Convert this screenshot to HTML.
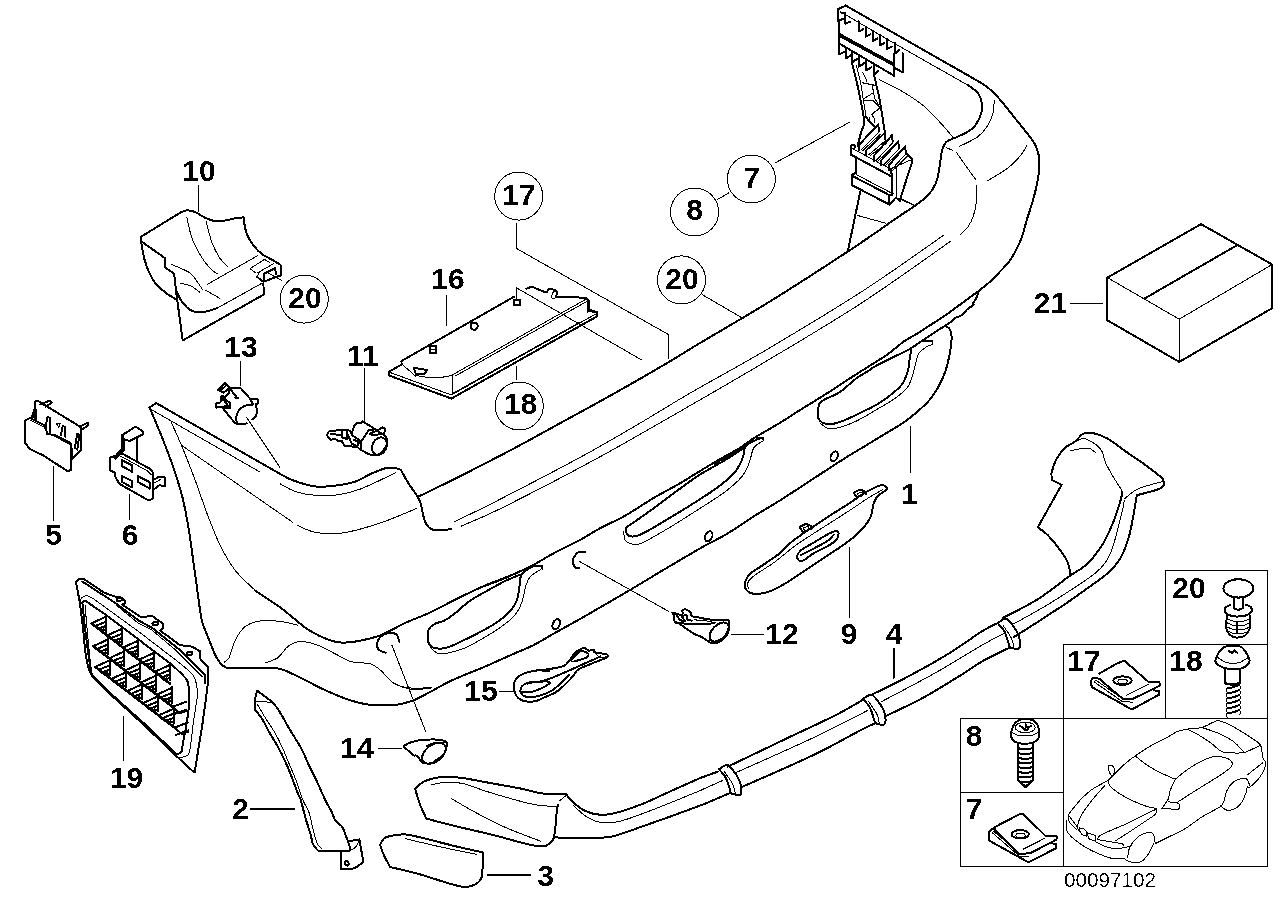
<!DOCTYPE html>
<html lang="en">
<head>
<meta charset="utf-8">
<title>Bumper trim panel, rear - parts diagram 00097102</title>
<style>
html,body{margin:0;padding:0;background:#fff;}
body{width:1288px;height:910px;overflow:hidden;}
svg{display:block;}
.k{fill:none;stroke:#000;stroke-width:2;stroke-linejoin:round;stroke-linecap:round;}
.t{fill:none;stroke:#000;stroke-width:1;stroke-linejoin:round;stroke-linecap:round;}
text{font-family:"Liberation Sans",sans-serif;fill:#000;text-anchor:middle;}
.n{font-size:30px;font-weight:bold;}
.s{font-size:20.7px;font-weight:normal;}
</style>
</head>
<body>
<svg width="1288" height="910" viewBox="0 0 1288 910" shape-rendering="crispEdges" text-rendering="optimizeLegibility">
<defs>
<filter id="bw" x="0" y="0" width="100%" height="100%" filterUnits="userSpaceOnUse" color-interpolation-filters="sRGB">
<feComponentTransfer><feFuncA type="discrete" tableValues="0 0 1 1"/></feComponentTransfer>
</filter>
<filter id="bw2" x="0" y="0" width="100%" height="100%" filterUnits="userSpaceOnUse" color-interpolation-filters="sRGB">
<feComponentTransfer><feFuncA type="discrete" tableValues="0 0 0 0 0 0 1 1 1 1"/></feComponentTransfer>
</filter>
</defs>
<rect x="0" y="0" width="1288" height="910" fill="#fff"/>
<!-- callout numbers -->
<!-- circled callouts -->
<circle class="t" cx="518.7" cy="196.1" r="24"/>
<circle class="t" cx="304.3" cy="299.1" r="24"/>
<circle class="t" cx="519.3" cy="406" r="24"/>
<circle class="t" cx="751.4" cy="179" r="24"/>
<circle class="t" cx="694.6" cy="212" r="24"/>
<circle class="t" cx="681.5" cy="279.9" r="24"/>
<!-- legend boxes -->
<path class="t" d="M1165.5 570 L1267.5 570 L1267.5 866 L960 866 L960 718 L1063 718 L1063 644 L1165.5 644Z"/>
<path class="t" d="M1165.5 644 L1267.5 644"/>
<path class="t" d="M1165.5 644 L1165.5 718"/>
<path class="t" d="M1063 718 L1267.5 718"/>
<path class="t" d="M1063 718 L1063 866"/>
<path class="t" d="M960 792 L1063 792"/>
<!-- bumper: right corner, outer edge and inner lip -->
<path class="k" d="M979 290.8 C978.6 291.9 977.5 295.5 976.5 297.6 C975.5 299.7 973.5 302 973 303.3 C972.5 304.6 974.3 304.3 973.4 305.2 C972.5 306.1 969.7 307.2 967.7 308.9 C965.7 310.6 963.6 313.7 961.5 315.2 C959.4 316.7 956.9 316.9 955.2 317.9 C953.5 318.9 952 320.6 951.4 321.2"/>
<path class="k" d="M968 85.2 C969.7 86.5 975.7 89.9 978 93.2 C980.3 96.5 981.7 101.2 982 105.3 C982.3 109.4 981.4 113.8 979.7 117.8 C978 121.8 975.3 126 971.7 129.1 C968.1 132.2 962.1 134.5 957.9 136.6 C953.7 138.7 949.3 139.5 946.7 141.6 C944.1 143.7 943.5 146 942.4 149.1 C941.3 152.2 941 156.4 940.4 160.4 C939.8 164.4 939.4 168.9 938.6 172.9 C937.8 176.9 937.2 180.4 935.4 184.2 C933.6 188 931.2 191.9 927.9 195.5 C924.5 199.1 919.9 202.2 915.3 205.5 C910.7 208.8 905.5 211.9 900.3 215.5 C895.1 219.1 886.7 224.9 884 226.8"/>
<path class="t" d="M879 79.7 C882.5 81.5 893 85.9 900.3 90.2 C907.6 94.5 916.2 99.9 922.9 105.3 C929.6 110.7 935.4 117.5 940.4 122.8 C945.4 128.1 950.8 134.9 952.9 137.3"/>
<path class="t" d="M994.3 100.3 C994.1 102.4 994 108.6 993 112.8 C992 117 990.5 121.3 988 125.3 C985.5 129.3 982.8 133 978 136.6 C973.2 140.2 962.3 144.9 959.2 146.6"/>
<path class="t" d="M1026.9 145.4 C1025.9 147.1 1023.7 151.7 1020.6 155.4 C1017.5 159.2 1013.5 163.7 1008.1 167.9 C1002.7 172.1 991.4 178.4 988 180.5"/>
<path class="t" d="M946.7 147.9 L952.9 150.4"/>
<path class="t" d="M956.7 152.9 C958.2 155 962.4 161 965.5 165.4 C968.6 169.8 973.8 176.9 975.5 179.2"/>
<path class="t" d="M976.2 185.5 C976.2 188 977 195.5 976.5 200.5 C976 205.5 974.9 211.1 973.5 215.5 C972.1 219.9 970.2 223.7 968 226.8 C965.8 229.9 961.8 233.1 960.5 234.3"/>
<path class="k" d="M860.2 191.7 L847.7 251.9"/>
<path class="t" d="M857.7 215.5 L885.3 223.1"/>
<path class="t" d="M900.3 199.2 L914.1 205.5"/>
<!-- guide bracket at top of bumper -->
<path class="k" d="M845.7 5.6 L837.5 9.4 L837.5 20.7 L843.2 19"/>
<path class="k" d="M838.8 20.7 L838.8 54.5 L845.1 51.4"/>
<path class="k" d="M840.7 12.5 L845.1 13.2 L845.1 23.6 L850.1 21.9"/>
<path class="t" d="M840.7 11.9 L895.2 43.9 L967.9 85.2"/>
<path class="k" d="M858.8 21.3 L858.8 31.6 L863.5 29.1"/>
<path class="k" d="M865.7 26.6 L865.7 36.8 L870.4 34.3"/>
<path class="k" d="M872.6 30.7 L872.6 41 L877.3 38.5"/>
<path class="k" d="M879.9 35.1 L879.9 45.4 L884.5 42.9"/>
<path class="k" d="M887 38.8 L887 49.1 L891.7 46.6"/>
<path class="k" d="M894.6 42.6 L894.6 53.9 L899.2 49.9"/>
<path class="k" d="M893.9 53.9 L893.9 76.4"/>
<path class="k" d="M902.7 53.3 L902.7 72.3 L893.9 67.7"/>
<path class="k" d="M838.8 33.6 L892.9 63.3"/>
<path class="k" stroke-width="3.2" d="M840.1 36.3 L892.9 64.9"/>
<path class="k" d="M838.8 43.2 L893.9 75.6"/>
<path class="k" d="M845.7 48.2 L845.7 58.5 L851 55.1"/>
<path class="k" d="M852 52 L852 62.3 L857.2 58.9"/>
<path class="k" d="M858.8 56.4 L858.8 66.7 L864.1 63.3"/>
<path class="k" d="M866.4 60.2 L866.4 70.4 L871.6 67"/>
<path class="k" d="M873.9 64.5 L873.9 74.6 L878.4 70.9"/>
<path class="k" d="M852 63.3 C852.7 66.1 854.9 74.5 856.3 80.2 C857.6 85.9 859 92.1 860.1 97.7 C861.2 103.3 862.5 110.2 863.2 114 C863.9 117.8 864.2 118.6 864.2 120.7 C864.2 122.8 863.9 124.8 863.4 126.6 C862.9 128.4 862.4 128 861.4 131.3 C860.4 134.6 858.2 143.9 857.6 146.4"/>
<path class="t" d="M856.3 65.2 C857 67.9 859.2 75.9 860.4 81.5 C861.5 87.1 862.5 94.4 863.2 99 C864 103.6 864.4 106.1 864.9 109 C865.4 111.9 865.2 114.3 866.1 116.5 C867 118.7 868.6 120.5 870.1 122.2 C871.6 123.9 874.3 126.1 875.1 126.9"/>
<path class="k" d="M865.7 116.5 C866.4 117.5 868.5 120.5 870.1 122.2 C871.7 123.9 874.3 126.1 875.1 126.9"/>
<path class="k" d="M873.9 74.6 C874.3 76.4 875.5 81.1 876.4 85.2 C877.3 89.3 878.6 94.2 879.5 99 C880.4 103.8 881.3 109.8 882 114 C882.7 118.2 883 120.8 883.5 124.1 C884 127.4 884.9 132.2 885.2 133.8"/>
<path class="t" d="M862.6 72.1 L867 81.5"/>
<path class="t" d="M862 82.7 L874.5 85.2"/>
<path class="t" d="M872.6 85.2 L873.3 92.7 L864.5 98.4"/>
<path class="t" d="M864.5 100.3 L873.3 100.3 L879.8 107.4"/>
<path class="t" d="M873.3 92.7 L875.1 99 L880.2 107.8 L871.6 114.7"/>
<path class="t" d="M872 100 L880.2 107.5 L871.4 114.4 L873.9 117.5 L874.5 122.6"/>
<path class="t" d="M869.5 117.5 L870.1 121.9"/>
<path class="k" d="M858.8 150.1 L858.8 145.1 L878.3 124.4 L878.9 131"/>
<path class="t" d="M861.1 149.9 L878.8 132.2"/>
<path class="t" d="M862.9 150.4 L880.5 134.2"/>
<path class="k" d="M866.4 155.1 L866.4 150.1 L884.5 133.2 L885.2 139.7"/>
<path class="t" d="M868.6 154.9 L885 141"/>
<path class="t" d="M870.4 155.4 L886.8 143"/>
<path class="k" d="M873.9 160.8 L873.9 155.8 L892.1 135.1 L892.7 141.6"/>
<path class="t" d="M876.1 160.5 L892.6 142.9"/>
<path class="t" d="M877.9 161 L894.3 144.9"/>
<path class="k" d="M881.4 165.2 L881.4 160.2 L898.3 141.4 L898.9 147.9"/>
<path class="t" d="M883.7 164.9 L898.8 149.1"/>
<path class="t" d="M885.4 165.4 L900.6 151.1"/>
<path class="k" d="M888.9 170.2 L888.9 165.2 L905.2 146.4 L905.8 152.9"/>
<path class="t" d="M891.2 169.9 L905.7 154.1"/>
<path class="t" d="M892.9 170.4 L907.5 156.1"/>
<path class="k" d="M854.5 147.6 L854.5 144.5 L850.7 145.7 L850.7 154.5 L891.4 176.4"/>
<path class="t" d="M852 148.2 L890.2 168.9 L910.2 160.2"/>
<path class="k" d="M905.8 152.6 L911.5 158.3 L911.5 163.9 L900.2 199 L900.2 200.9 L895.8 197.7 L889.5 204.6 L852 185.2 L852 174.6 L855.1 173.3"/>
<path class="k" d="M891.4 169.5 L892.1 195.2"/>
<path class="t" d="M896.4 168.9 L896.4 197.7"/>
<path class="k" d="M855.7 158.9 L855.7 173.3"/>
<path class="k" d="M853.2 176.4 L890.2 195.5 L892.7 194"/>
<path class="t" d="M856.3 174.6 L892.1 193.4"/>
<path class="k" d="M888.9 196.5 L888.9 204.6"/>
<path class="t" d="M901.5 199 L913.4 204.6"/>
<path class="t" d="M775 163 L850 122"/>
<path class="t" d="M717.5 199.5 L728.5 193"/>
<!-- bumper: top face edge, highlight lines, left wing -->
<path class="k" d="M883.9 227 C880.3 229.5 872.2 235.2 862.1 242 C852 248.8 837.2 258.5 823.2 267.6 C809.2 276.7 791.5 288 778.1 296.4 C764.7 304.8 756 310 743 317.7 C730 325.4 713.4 335.1 700.4 342.8 C687.4 350.5 679.5 355.8 665.3 364.1 C651.1 372.5 631.9 383.5 615.2 392.9 C598.5 402.3 582.7 410.9 565.1 420.5 C547.5 430.1 527.9 441.1 509.9 450.6 C491.9 460.1 472.5 470 457.3 477.6 C442.1 485.2 425.3 493.3 418.9 496.4"/>
<path class="t" d="M944 235 C930.4 244.4 891.8 272.2 862.1 291.4 C832.4 310.6 794.2 333.4 765.6 350.3 C737 367.2 711.3 380.8 690.4 392.9 C669.5 405 658.9 412.1 640.3 423 C621.7 433.9 603 445 578.8 458.1 C554.6 471.2 515.6 491.3 494.9 501.9 C474.2 512.5 461.5 518.2 454.8 521.5"/>
<path class="t" d="M950.5 241.3 C935.8 251.5 892.9 282.6 862.1 302.7 C831.3 322.8 794.2 344.5 765.6 361.6 C737 378.7 718.4 389.3 690.4 405.4 C662.4 421.5 628.9 441.1 597.6 458.1 C566.3 475.2 525.1 496.3 502.4 507.7 C479.6 519 468 523.1 461.1 526.2"/>
<path class="t" d="M702.4 294.7 L741.8 317.7"/>
<path class="t" d="M516.5 223 L516.5 248.5 L668.7 334.7 L668.7 359"/>
<path class="k" d="M149.5 407.6 L156.3 403.1 L277.9 472.7 L277.9 472.7 C280.4 474 286.6 478 292.9 480.3 C299.2 482.6 308 485.7 315.5 486.5 C323 487.3 331.3 486.1 338 485.3 C344.7 484.5 350.2 483.4 355.6 481.5 C361 479.6 365.6 476.2 370.6 474 C375.6 471.8 381.4 469.2 385.6 468.2 C389.8 467.2 394 468.2 395.7 468.2 L400.7 469.7 C401.9 471.9 405.1 477.7 408.2 482.8 C411.3 487.9 417 494.9 419.5 500.3 C422 505.7 421.9 511.1 423.2 515.3 C424.4 519.5 424.9 522.9 427 525.4 C429.1 527.9 431.8 529.8 435.8 530.4 C439.8 531 448.3 529.3 450.8 529.1"/>
<path class="k" d="M149.5 407.6 C151.3 411.8 156.2 423 160.1 432.6 C163.9 442.2 168.8 454.3 172.6 465.2 C176.3 476.1 179.9 486.9 182.6 497.8 C185.3 508.7 187 519.1 188.9 530.4 C190.8 541.7 192.4 555.1 193.9 565.5 C195.4 575.9 197.1 588.4 197.7 593"/>
<path class="t" d="M151.3 409.6 L259.1 471.5"/>
<path class="t" d="M171.4 422.6 C173.1 426.4 177.4 435.6 181.4 445.2 C185.4 454.8 190.8 468.6 195.2 480.3 C199.6 492 203.5 504.4 207.7 515.3 C211.9 526.1 215.6 536.2 220.2 545.4 C224.8 554.6 229.5 563 235.3 570.5 C241.2 578 252 587.2 255.3 590.5"/>
<path class="t" d="M181.4 445.2 L292.9 522.4"/>
<path class="t" d="M297.9 525.4 C300.8 526.6 308 531.1 315.5 532.4 C323 533.6 332.1 534.5 343 532.9 C353.9 531.3 368.3 527 380.6 522.9 C392.9 518.8 410.9 510.7 417 508.3"/>
<path class="t" d="M280.4 484 C282.9 485.2 289.5 489.6 295.4 491.5 C301.2 493.4 308.4 494.8 315.5 495.3 C322.6 495.9 330.5 495.9 338 494.8 C345.5 493.8 351 492.7 360.6 489 C370.2 485.3 389.9 475.4 395.7 472.7"/>
<path class="t" d="M246.5 417.1 L279.9 467.2"/>
<path class="t" d="M224 662.3 C224.8 661.5 227.1 661.4 229 657.7 C230.9 654 232.6 645.4 235.3 640.2 C238 635 241.1 629.6 245.3 626.4 C249.5 623.2 254.5 621.7 260.3 620.9 C266.1 620.1 274.1 620.7 280.4 621.4 C286.7 622.1 295 624.6 297.9 625.2"/>
<path class="t" d="M265.3 662.8 C267.4 661.9 274.1 660.4 277.9 657.7 C281.7 655 284.1 649.2 287.9 646.5 C291.6 643.8 295.4 641.7 300.4 641.5 C305.4 641.3 312.1 643.1 318 645.2 C323.9 647.3 330.1 651.3 335.5 654 C340.9 656.7 344.8 659.8 350.6 661.5 C356.5 663.2 365.6 662.5 370.6 664 C375.6 665.5 376.8 667.2 380.6 670.3 C384.4 673.4 388.6 679.9 393.2 682.8 C397.8 685.7 401.9 687 408.2 687.8 C414.5 688.6 427 687.8 430.8 687.8"/>
<path class="k" d="M399.4 641.5 C398.8 640.2 398 635.2 395.7 633.9 C393.4 632.6 388.5 632.8 385.6 633.9 C382.7 635 379.4 637.7 378.1 640.2 C376.9 642.7 376.9 646.9 378.1 649 C379.4 651.1 384.4 652.1 385.6 652.7"/>
<path class="t" d="M391.9 645.2 L425.7 731.7"/>
<path class="t" d="M378.1 748 L401.9 748"/>
<!-- lower valance panel with three slots -->
<path class="k" d="M911.1 349.3 C910.9 350.9 910.3 355.4 909.7 359.1 C909.1 362.8 908.9 367.5 907.6 371.7 C906.3 375.9 904.8 380.4 902 384.3 C899.2 388.2 895 391.4 890.8 394.8 C886.6 398.2 882.7 401.1 876.9 404.5 C871.1 407.9 861.7 412.2 855.9 415 C850.1 417.8 846.1 419.8 841.9 421.3 C837.7 422.8 834 423.9 830.7 424.1 C827.5 424.3 824.5 423.8 822.4 422.7 C820.3 421.6 818.9 420 818.2 417.8 C817.5 415.6 817.7 412.1 818.2 409.4 C818.7 406.7 817.8 404.4 821 401.7 C824.2 399 833.5 395.8 837.7 393.4 C841.9 391 843.1 389.6 846.1 387.1 C849.1 384.7 852.4 381.3 855.9 378.7 C859.4 376.1 863.8 373.8 867.1 371.7 C870.4 369.6 871.3 368.4 875.5 366.1 C879.7 363.8 886.4 360.6 892.2 357.7 C898 354.8 904.8 351.9 910.4 348.6 C916 345.4 920 342 925.8 338.2 C931.6 334.4 940.6 328.6 945.3 325.6 C949.9 322.6 952.3 320.9 953.7 320"/>
<path class="k" d="M923 341 L932.1 341"/>
<path class="t" d="M932.1 341 L932.1 344.5"/>
<path class="t" d="M820.3 423.4 C821.6 424.2 824.8 427.6 827.9 428.3 C831 429 834.4 428.8 839.1 427.6 C843.8 426.4 849.6 424.3 855.9 421.3 C862.2 418.3 870.4 413.2 876.9 409.4 C883.4 405.6 889.9 402 895 398.3 C900.1 394.6 904.6 391.3 907.6 387.1 C910.6 382.9 911.8 377.3 913.2 373.1 C914.6 368.9 915.1 365.2 916 361.9 C916.9 358.6 917.2 355.9 918.8 353.5 C920.4 351.1 923.6 348.7 925.8 347.2 C928 345.7 931 344.9 932.1 344.5"/>
<path class="k" d="M762.8 437.5 C761.3 438.1 756.6 439.5 753.7 441 C750.8 442.5 747 444.1 745.3 446.6 C743.5 449.2 744.1 453.3 743.2 456.3 C742.3 459.3 741.4 461.7 739.7 464.7 C738 467.7 736.8 470.5 732.8 474.5 C728.8 478.5 722.3 483.9 716 488.5 C709.7 493.1 702.7 497.5 695 502.4 C687.3 507.3 678 512.9 669.9 517.8 C661.8 522.7 651.7 528.8 646.1 531.8 C640.5 534.8 639.1 535.3 636.3 536 C633.5 536.7 631 536.7 629.3 536 C627.6 535.3 626.3 533.2 625.9 531.8 C625.5 530.4 624.9 529.5 626.6 527.6 C628.3 525.7 631.4 524.1 636.3 520.6 C641.2 517.1 648.9 511.7 655.9 506.6 C662.9 501.5 671.3 495 678.3 489.9 C685.3 484.8 691.8 479.9 697.8 475.9 C703.8 471.9 709 469.4 714.6 466.1 C720.2 462.8 726.3 459.6 731.4 456.3 C736.5 453.1 743 448.2 745.3 446.6"/>
<path class="k" d="M756.5 438.2 L762.8 437.5 L763.5 440.3"/>
<path class="t" d="M623.8 531.8 C624 533.2 623.8 538.2 625.2 540.2 C626.6 542.2 629.3 543.6 632.1 544.1 C634.9 544.6 636.1 545.5 641.9 543 C647.7 540.5 657.3 534.8 667.1 529 C676.9 523.2 690.8 514.3 700.6 508 C710.4 501.7 718.8 496.7 725.8 491.3 C732.8 485.9 738.5 480.8 742.5 475.9 C746.5 471 747.6 466.6 749.5 461.9 C751.4 457.2 751.5 451.4 753.7 447.9 C755.9 444.4 761.3 442.1 762.8 441"/>
<path class="k" d="M714.6 463.6 C717.4 462 726.3 457.3 731.4 454.2 C736.5 451.1 743 446.7 745.3 445.2"/>
<path class="k" d="M541.8 565.9 C540.3 566 536.2 565.1 532.8 566.6 C529.4 568.1 523.8 571.6 521.6 574.9 C519.4 578.1 520.2 582.1 519.5 586.1 C518.8 590.1 518.7 594.9 517.4 598.7 C516.1 602.6 514.6 605.7 511.8 609.2 C509 612.7 505.3 616.2 500.6 619.7 C495.9 623.2 490.6 626.4 483.8 630.1 C477.1 633.8 466.4 639 460.1 642 C453.8 645 450.1 646.9 446.1 647.9 C442.1 648.9 439 648.7 436.3 648.3 C433.6 647.9 431.4 647.2 430 645.5 C428.6 643.8 427.9 640.5 427.7 637.8 C427.5 635.1 427.4 631.7 428.6 629.4 C429.8 627.1 432.2 625.3 434.9 623.8 C437.6 622.3 441.2 622.2 444.7 620.4 C448.2 618.5 451.7 616 455.9 612.7 C460.1 609.4 464.5 604.5 469.9 600.8 C475.2 597.1 481.9 593.7 488 590.3 C494.1 586.9 500.6 583.2 506.2 580.5 C511.8 577.8 519 575.2 521.6 574.2"/>
<path class="k" d="M541.8 565.9 L542.5 569.3"/>
<path class="k" d="M482.4 586.8 C486.4 585.3 498.3 581.1 506.2 577.7 C514.1 574.3 526 568.5 530 566.6"/>
<path class="t" d="M430 646.9 C431.3 648 434.6 652.2 437.7 653.2 C440.8 654.2 444.2 653.8 448.9 652.9 C453.6 652 459.9 650.1 465.7 647.6 C471.5 645.1 478 641.2 483.8 637.8 C489.6 634.4 495.5 631 500.6 627.3 C505.7 623.6 511.1 619.6 514.6 615.5 C518.1 611.4 519.7 607.8 521.6 602.9 C523.5 598 524.4 590.4 525.8 586.1 C527.2 581.8 527.7 579.7 530 577 C532.3 574.3 537.7 571.4 539.7 570 C541.8 568.6 541.9 568.8 542.3 568.6"/>
<path class="k" d="M255.3 590.8 C259.5 593.6 272 601.5 280.4 607.6 C288.8 613.8 298.7 622.9 305.4 627.7 C312.1 632.5 315.1 634 320.5 636.4 C325.9 638.8 332.1 641.4 338 642.2 C343.9 643.1 348.5 642.7 355.6 641.5 C362.7 640.3 372.2 638.3 380.6 635.2 C389 632.1 397.8 626.3 405.7 622.7 C413.6 619.1 418.9 617.6 428 613.4 C437.1 609.2 450.7 601.8 460 597.3 C469.3 592.8 475.2 589.8 483.8 586.1 C492.4 582.4 503.6 578.5 511.8 575 C520 571.5 525.8 568.8 532.8 565.2 C539.8 561.6 545.8 557.5 553.7 553.3 C561.6 549.1 572.3 544.2 580 540 C587.7 535.8 592.5 532.3 600 528.3 C607.5 524.2 616.4 520.7 625.2 515.7 C634.1 510.7 644.2 503.5 653.1 498.3 C662 493.1 670.8 488.6 678.3 484.3 C685.8 480 691 476.5 697.8 472.4 C704.5 468.3 711.8 463.9 718.8 459.8 C725.8 455.7 733.9 451.6 739.7 448 C745.5 444.4 747 442.4 753.7 438.2 C760.4 434 772.3 427.5 780 422.8 C787.7 418.1 792 415.1 800 410.1 C808 405.1 818.7 398.6 828 392.7 C837.3 386.8 846.1 380.8 855.9 374.5 C865.7 368.2 878.6 360.5 886.6 355 C894.6 349.5 898.6 345.1 903.8 341.5 C909 337.9 912.4 336.6 917.6 333.4 C922.8 330.1 930.3 325.1 935.1 322 C939.9 318.9 942.2 317.5 946.4 314.6 C950.6 311.7 954.8 308.5 960.2 304.5 C965.6 300.5 974.2 294.3 979 290.7 C983.8 287.1 985.7 285.6 989 282.6 C992.3 279.6 995.5 276.4 999 272.6 C1002.5 268.8 1006.6 265.5 1010.3 260 C1013.9 254.5 1018.1 246.5 1020.9 239.8 C1023.6 233.1 1024.7 227 1026.8 220 C1028.9 213 1031.7 205 1033.6 198 C1035.5 191 1037.1 184.2 1038.1 177.9 C1039.1 171.6 1039.7 165.6 1039.4 160.4 C1039.1 155.2 1037.6 150.4 1036.1 146.6 C1034.6 142.8 1034 142.4 1030.6 137.8 C1027.2 133.2 1020.6 125.2 1015.6 119 C1010.6 112.8 1005.2 105.5 1000.6 100.3 C996 95.1 992.4 91.3 988 87.7 C983.6 84.1 976.5 80.4 974.2 78.9"/>
<path class="k" d="M974.2 78.9 L845.7 5.5"/>
<path class="k" d="M197.7 593 C198.4 597.6 200 612.8 201.9 620.6 C203.8 628.4 207.1 634.6 209.2 640 C211.3 645.4 212.7 649.5 214.4 653.2 C216.2 656.9 217.8 660.1 219.7 662.4 C221.5 664.7 223.4 666.3 225.5 667.2 C227.6 668.1 226.2 667.9 232 668 C237.8 668.1 252.2 667.6 260.3 667.8 C268.4 668 273.7 667.3 280.4 669 C287.1 670.7 292.9 674.2 300.4 677.8 C307.9 681.3 317.1 686.5 325.5 690.3 C333.9 694.1 343.1 698 350.6 700.4 C358.1 702.8 363.1 704.1 370.6 704.9 C378.1 705.6 388.6 705.6 395.7 704.9 C402.8 704.1 407.3 702.6 413.2 700.4 C419.1 698.2 424.3 695 430.8 691.6 C437.3 688.2 442.9 684.5 452 680.3 C461.1 676.1 475.2 670.8 485.2 666.5 C495.2 662.2 503.9 658.1 511.8 654.6 C519.7 651.1 525.8 649 532.8 645.5 C539.8 642 545.8 638 553.7 633.6 C561.6 629.2 568 625.8 580 619 C592 612.2 611.4 600.9 625.6 592.6 C639.8 584.3 652 576.7 665 569 C678 561.3 693.3 552.2 703.4 546.5 C713.5 540.8 717.4 539.6 725.8 534.6 C734.2 529.6 744.7 522.1 753.7 516.4 C762.7 510.7 765.5 509.6 780 500.4 C794.5 491.2 826.5 470 840.5 461 C854.5 452 857.1 450.9 864.3 446.5 C871.5 442.1 878.2 438 883.8 434.6 C889.4 431.2 893.1 429.2 897.8 426.2 C902.5 423.2 906.7 420.6 911.8 416.4 C916.9 412.2 924.2 405.9 928.6 401 C933 396.1 935.5 391.9 938.3 387 C941.1 382.1 943.4 377.1 945.3 371.7 C947.2 366.3 948.5 360.5 949.5 354.9 C950.5 349.3 951.5 342.4 951.6 338.2 C951.7 334 951.2 331.9 950.2 329.8 C949.2 327.7 946.1 326.3 945.3 325.6"/>
<path class="t" d="M400 686.6 C402.5 687.1 409.8 689.4 415 689.6 C420.2 689.8 428.6 688.2 431.3 687.9"/>
<ellipse class="k" cx="556.2" cy="624.3" rx="3.4" ry="5.3" transform="rotate(25 556.2 624.3)"/>
<ellipse class="k" cx="708.7" cy="536.3" rx="3.4" ry="5.3" transform="rotate(25 708.7 536.3)"/>
<ellipse class="k" cx="834.2" cy="456.4" rx="3.3" ry="5.3" transform="rotate(25 834.2 456.4)"/>
<path class="k" d="M585.5 552.5 C584.2 552.5 580 551.2 577.9 552.5 C575.8 553.8 573.3 557.6 572.9 560.1 C572.5 562.6 574.3 566.3 575.4 567.6 C576.5 568.9 578.6 568 579.2 568.1"/>
<path class="t" d="M579.2 561.3 L668.7 611.4"/>
<path class="t" d="M499 691.1 L514 691.1"/>
<path class="t" d="M910.2 426.3 L910.2 472.7"/>
<path class="t" d="M849.3 547.9 L849.3 618"/>
<!-- part 4: lower trim strip -->
<path class="k" d="M1037.8 527.3 L1061.7 484.7 L1052.4 480.2 L1052.4 480.2 C1052.3 478.9 1050.9 476.2 1051.6 472.7 C1052.3 469.1 1054.3 463.1 1056.6 458.9 C1058.9 454.7 1062.3 450.5 1065.4 447.6 C1068.5 444.7 1072.5 443.6 1075.4 441.3 C1078.3 439 1080.1 435.2 1083 433.8 C1085.9 432.4 1088.8 432.3 1093 433.1 C1097.2 433.9 1102.6 435.8 1108 438.8 C1113.4 441.9 1119.3 447 1125.6 451.4 C1131.9 455.8 1139.3 460.5 1145.6 465.1 C1151.9 469.7 1160.3 476.6 1163.2 478.9 L1163.2 478.9 C1163.2 480.1 1164.5 484.5 1163.2 486.4 C1161.9 488.3 1160 488.7 1155.6 490.2 C1151.2 491.7 1139.9 494.4 1136.8 495.2 L1136.8 495.2 C1136.4 497.7 1135.5 503.6 1134.3 510.3 C1133 517 1131.6 527.4 1129.3 535.3 C1127 543.2 1124.1 551.6 1120.6 557.9 C1117 564.2 1113.4 567.9 1108 572.9 C1102.6 577.9 1095.5 582.5 1088 587.9 C1080.5 593.3 1074.2 598 1062.9 605.5 C1051.6 613 1028.5 627.9 1020.3 633.1 C1012.1 638.3 1015 636.2 1014 636.8"/>
<path class="k" d="M1037.8 527.3 C1039.5 528.6 1044.1 531.4 1047.9 535.3 C1051.7 539.1 1057.1 545.8 1060.4 550.4 C1063.7 555 1066.2 558.7 1067.9 562.9 C1069.6 567.1 1070 573.3 1070.4 575.4"/>
<path class="k" d="M1002.8 618 C1008.6 614.9 1026.5 606.3 1037.8 599.2 C1049.1 592.1 1062.5 581 1070.4 575.4 C1078.4 569.8 1080.5 570 1085.5 565.4 C1090.5 560.8 1095.9 554.9 1100.5 547.8 C1105.1 540.7 1109.7 530.7 1113 522.8 C1116.3 514.9 1119 505.4 1120.6 500.2 C1122.1 495 1122 492.9 1122.3 491.5"/>
<path class="t" d="M1012.8 624.3 C1019.1 620.8 1036.6 611.6 1050.4 603 C1064.2 594.4 1085.5 581.2 1095.5 572.9 C1105.5 564.5 1106.8 560.4 1110.5 552.9 C1114.2 545.4 1115.9 535.3 1118 527.8 C1120.1 520.3 1122 512.3 1123.1 507.7 C1124.1 503.1 1124.1 501.4 1124.3 500.2"/>
<path class="t" d="M1075.4 441.3 C1077.1 440.9 1081.3 437.6 1085.5 438.8 C1089.7 440.1 1097.2 444.8 1100.5 448.8 C1103.8 452.8 1103.4 458 1105.5 462.6 C1107.6 467.2 1110.3 471.8 1113 476.4 C1115.7 481 1120.3 487.9 1121.8 490.2"/>
<path class="t" d="M1070.4 450.6 C1073.3 450.2 1083.8 447.8 1088 448.1 C1092.2 448.4 1094.2 451.9 1095.5 452.6"/>
<path class="t" d="M1124.3 499 C1126.6 497.3 1131.6 491.8 1138.1 488.9 C1144.6 486 1159 482.6 1163.2 481.4"/>
<path class="k" d="M997.6 623.1 C998.9 622.4 1003.2 618.6 1005.6 618.8 C1008 619 1009.8 621.7 1011.9 624.3 C1014 626.9 1016.7 630.9 1018.1 634.3 C1019.5 637.6 1020.2 642 1020.2 644.4 C1020.2 646.8 1019.7 648.4 1018.1 648.9 C1016.5 649.4 1011.9 647.8 1010.6 647.6"/>
<path class="k" d="M997.6 623.1 C998.8 624.5 1002.6 627.8 1004.6 631.8 C1006.6 635.8 1008.8 644.4 1009.6 646.9"/>
<path class="t" d="M1003.1 625.6 C1004.5 627.7 1009.6 634.4 1011.4 638.1 C1013.2 641.9 1013.6 646.4 1014.1 648.1"/>
<path class="k" d="M863 699 C864.3 698.3 868.6 694.5 871 694.7 C873.4 694.9 875.2 697.7 877.3 700.3 C879.4 702.9 882.2 707 883.6 710.3 C885 713.6 885.6 717.9 885.6 720.3 C885.6 722.7 885.2 724.2 883.6 724.8 C882 725.3 877.3 723.8 876 723.6"/>
<path class="k" d="M863 699 C864.2 700.5 868 703.8 870 707.8 C872 711.8 874.2 720.3 875 722.8"/>
<path class="t" d="M868.5 701.5 C869.9 703.6 875 710.2 876.8 714 C878.6 717.8 879 722.4 879.5 724.1"/>
<path class="k" d="M718.9 769.2 C720.2 768.5 724.5 764.7 726.9 764.9 C729.3 765.1 731.1 767.8 733.2 770.4 C735.3 773 738 777.1 739.4 780.5 C740.8 783.9 741.5 788.1 741.5 790.5 C741.5 792.9 741 794.5 739.4 795 C737.8 795.5 733.1 793.9 731.9 793.7"/>
<path class="k" d="M718.9 769.2 C720.1 770.7 723.9 773.9 725.9 777.9 C727.9 781.9 730.1 790.5 730.9 793"/>
<path class="t" d="M724.4 771.7 C725.8 773.8 730.9 780.5 732.7 784.2 C734.5 788 735 792.5 735.4 794.2"/>
<path class="k" d="M701.9 777.4 L717.6 771.7"/>
<path class="k" d="M727.7 766.7 C737.3 762.1 767.3 747.7 785.3 739.1 C803.2 730.5 822.2 722 835.4 715.3 C848.6 708.6 859.5 701.7 864.3 699"/>
<path class="k" d="M871.8 694.7 C878.3 691.5 897.9 682 910.6 675.2 C923.3 668.4 936.3 661.2 948.2 653.9 C960.1 646.6 973.9 636.4 982.1 631.3 C990.3 626.2 995 624.5 997.6 623.1"/>
<path class="k" d="M701.9 805 L730.2 793"/>
<path class="k" d="M740.7 787.5 C748.1 784.2 771.6 774.1 785.3 767.9 C799 761.7 810.4 756.7 822.9 750.4 C835.4 744.1 851.6 734.9 860.5 730.3 C869.4 725.7 873.4 724 876 722.8"/>
<path class="k" d="M886.3 715.8 C892.4 712.8 910.8 704.5 923.2 697.7 C935.6 690.9 951 681.2 960.8 675.2 C970.6 669.2 973.8 666.1 982.1 661.4 C990.4 656.7 1005.9 649.5 1010.6 647.1"/>
<path class="t" d="M701.9 789.7 L722.7 780.5"/>
<path class="t" d="M735.2 772.9 C747.7 767.3 788.3 749.5 810.4 739.1 C832.5 728.7 858.4 715.1 868 710.3"/>
<path class="t" d="M881.8 701.5 C890.8 696.7 919 682.1 935.7 672.7 C952.4 663.3 970.8 651.6 982.1 645.1 C993.4 638.6 999.9 635.7 1003.4 633.8"/>
<path class="k" d="M893.8 648.9 L893.8 677.7"/>
<path class="t" d="M731.4 634.5 L764 634.5"/>
<path class="k" d="M415.1 788.5 C416.8 787.2 420.9 782.9 425.1 781 C429.3 779.1 434.4 777.8 440.2 777.2 C446 776.7 451.4 776.7 460.2 777.7 C469 778.8 482.8 781.7 492.8 783.5 C502.8 785.3 512 786.8 520.4 788.5 C528.8 790.2 535.4 792.7 542.9 793.5 C550.4 794.3 561.7 793.5 565.5 793.5 L565.5 793.5 C566.8 795 569.7 799.4 573 802.3 C576.3 805.2 580.9 809 585.5 811.1 C590.1 813.2 595.2 814.6 600.6 814.8 C606 815 611 814.2 618.1 812.3 C625.2 810.4 634.9 806.9 643.2 803.6 C651.6 800.3 658.4 796.7 668.2 792.3 C678 787.9 696.5 779.7 702.1 777.2"/>
<path class="k" d="M415.1 788.5 C415.9 791.2 418.2 799.8 420.1 804.8 C422 809.8 425.3 816.3 426.4 818.6 L426.4 818.6 C431.2 819.9 444.1 823.4 455.2 826.1 C466.3 828.8 480.3 831.8 492.8 834.9 C505.3 838 521.6 843 530.4 844.9 C539.2 846.8 542.9 846 545.4 846.2 L545.4 846.2 C546.6 845.2 551.2 843 552.9 839.9 C554.6 836.8 554.8 832 555.4 827.4 C556 822.8 556.3 816.1 556.7 812.3 C557.1 808.5 557.7 806 557.9 804.8"/>
<path class="k" d="M554.2 837.4 C558.6 837.5 571.9 837.9 580.5 837.9 C589.1 837.9 599.3 837.9 605.6 837.4 C611.9 836.9 611.8 836.8 618.1 834.9 C624.4 833 634.9 829 643.2 826.1 C651.6 823.2 658.4 820.8 668.2 817.3 C678 813.8 696.5 806.9 702.1 804.8"/>
<path class="t" d="M431.4 784.8 C433.7 784.4 440 782.5 445.2 782.3 C450.4 782.1 456 782 462.7 783.5 C469.4 785 477.4 788.5 485.3 791 C493.2 793.5 502 796.2 510.3 798.5 C518.6 800.8 527.7 803.4 535.4 804.8 C543.1 806.1 553.2 806.3 556.7 806.6"/>
<path class="t" d="M451.4 798.5 C455.4 800.8 466.2 807.5 475.2 812.3 C484.2 817.1 494.4 822.6 505.3 827.4 C516.2 832.2 534.5 838.8 540.4 841.1"/>
<path class="t" d="M559.2 801 L565.5 796"/>
<path class="t" d="M573 804.8 C575.1 806.7 580.9 813.2 585.5 816.1 C590.1 819 594.8 821.6 600.6 822.4 C606.5 823.2 611.4 823.4 620.6 821.1 C629.8 818.8 642.1 813.8 655.7 808.6 C669.3 803.4 694.4 792.9 702.1 789.8"/>
<!-- part 3: small trim -->
<path class="k" d="M380 844.9 C380.6 843.9 382.1 840.1 383.8 838.6 C385.5 837.1 386.4 836.8 390 836.1 C393.6 835.4 399.2 834 405.1 834.4 C411 834.8 416.8 836.6 425.1 838.6 C433.5 840.6 445.6 843.9 455.2 846.2 C464.8 848.5 478.2 851.4 482.8 852.4 L482.8 852.4 C482.8 854.1 483 858.3 482.8 862.5 C482.6 866.7 482.6 874 481.5 877.5 C480.4 881 479.2 882.2 476.5 883.8 C473.8 885.4 469.6 887 465.2 887 C460.8 887 458.1 886 450.2 883.8 C442.3 881.6 427.6 876.5 417.6 873.7 C407.6 870.9 394.6 868.1 390 867 L390 867 C389 865 385.5 858.6 383.8 854.9 C382.1 851.2 380.6 846.6 380 844.9"/>
<path class="t" d="M405.1 838.6 C411.4 840.1 430.8 844.8 442.7 847.4 C454.6 850 470.9 853.2 476.5 854.4"/>
<path class="k" d="M488.3 875 L530.4 875"/>
<!-- part 19: air outlet grille -->
<path class="k" d="M75.8 581.9 C76.5 585.4 78.6 595.1 79.8 603 C81 610.9 82.1 620.8 83.1 629.4 C84.1 638 84.8 648.1 85.7 654.5 C86.6 660.9 87.4 664.2 88.4 667.7 C89.4 671.2 91.2 674.3 91.7 675.6"/>
<path class="k" d="M91.7 675.6 L112.8 696.5 L144.5 725.5 L176.2 755.9 L194 772.3 L194.6 772.3"/>
<path class="k" d="M208.5 667.7 C208.4 670.3 208.8 674.1 207.8 683.3 C206.8 692.5 204.3 710.8 202.6 722.9 C200.8 735 198.6 747.7 197.3 755.9 C196 764.1 195.1 769.6 194.6 772.3"/>
<path class="k" d="M75.8 581.9 L79.1 578.6 L83.8 579 L103.6 592.4 L114.1 596.4 L122 597.7 L125.3 601 L124.7 603.7 L122 604.6 L140.5 616.9 L152.4 616.2 L163 623.5 L162.7 628.7 L160.3 630.7 L180.1 645.2 L192 646.6 L199.9 651.2 L199.9 658.4 L208.5 667.7"/>
<ellipse class="k" cx="119.4" cy="599.3" rx="2.9" ry="1.7" transform="rotate(-10 119.4 599.3)"/>
<ellipse class="k" cx="155.3" cy="623.5" rx="2.9" ry="1.7" transform="rotate(-10 155.3 623.5)"/>
<ellipse class="k" cx="189.6" cy="653.4" rx="2.9" ry="1.7" transform="rotate(-10 189.6 653.4)"/>
<path class="k" d="M82.4 581.6 L115.4 603 L139.2 620.8 L152.4 628.1 L178.8 649.2 L205.2 675.6 L205.2 683.5"/>
<path class="t" d="M116.8 605.6 L137.9 622.8 L151.1 629.4 L176.2 650.5 L202.6 676.9"/>
<path class="k" d="M82.4 602.3 C82.6 602.1 83.2 601.2 83.8 601 C84.3 600.8 85.4 601 85.7 601 L85.7 601 L104.9 614.2 L139.2 640 L172.2 665 L172.2 665 C174.6 667.4 183.9 675.5 186.7 679.6 C189.4 683.7 188.2 685.8 188.7 689.5 C189.1 693.2 189.7 696.4 189.4 702 C189.1 707.6 187.8 715.9 186.7 722.9 C185.6 729.9 183.7 739.2 182.8 744 C181.9 748.8 182.4 750.1 181.4 751.9 C180.4 753.6 177.6 754.1 176.8 754.5 L176.8 754.5 L144.5 723.8 L112.8 695.4 L91.7 674.3 L91.7 674.3 C91.2 671 89.6 663.1 88.4 654.5 C87.2 645.9 85.4 631.5 84.4 622.8 C83.4 614.1 82.7 605.7 82.4 602.3"/>
<path class="t" d="M79.8 604.3 C80 603.3 80 599.8 81.1 598.4 C82.2 597 84.4 595.7 86.4 595.7 C88.4 595.7 91.9 598 93 598.4"/>
<path class="t" d="M93 598.4 L139.2 632 L178.8 662.4 L178.8 662.4 C181.2 664.6 190.2 671.1 193.3 675.6 C196.4 680.1 196.6 686 197.3 689.5 C198 693 198 691.1 197.3 696.7 C196.6 702.3 194.5 714.1 193.3 722.9 C192.1 731.7 191.1 743.8 190 749.3 C188.9 754.8 188.6 754.5 186.7 755.9 C184.8 757.3 180.1 757.5 178.8 757.8"/>
<path class="t" d="M95.6 679.3 L176.2 754.5"/>
<path class="t" d="M85.1 605.6 L87.1 629.4 L90.4 662.4"/>
<path class="k" d="M91 623.5 L105.5 616.9"/>
<path class="k" d="M106.3 615.3 L106.3 631.6"/>
<path class="k" stroke-width="2.6" d="M91 623.5 L106.9 635.6"/>
<path class="t" d="M92.6 623.2 L107.7 634.8"/>
<path class="k" d="M94.3 626.4 L105.5 621.9"/>
<path class="k" d="M97.6 629 L105.8 625.8"/>
<path class="k" d="M100.9 631.4 L105.8 629.5"/>
<path class="t" fill="#000" d="M98.9 627.4 L104.2 627.4 L102.2 630.1Z"/>
<path class="k" d="M106.9 635.6 L121.4 629"/>
<path class="k" d="M122.2 627.4 L122.2 643.8"/>
<path class="k" stroke-width="2.6" d="M106.9 635.6 L122.7 647.7"/>
<path class="t" d="M108.4 635.3 L123.5 647"/>
<path class="k" d="M110.2 638.5 L121.4 634"/>
<path class="k" d="M113.5 641.1 L121.6 638"/>
<path class="k" d="M116.8 643.5 L121.6 641.7"/>
<path class="t" fill="#000" d="M114.8 639.6 L120.1 639.6 L118.1 642.2Z"/>
<path class="k" d="M122.7 647.7 L137.2 641.1"/>
<path class="k" d="M138 639.6 L138 655.9"/>
<path class="k" stroke-width="2.6" d="M122.7 647.7 L138.5 659.9"/>
<path class="t" d="M124.3 647.5 L139.3 659.1"/>
<path class="k" d="M126 650.6 L137.2 646.2"/>
<path class="k" d="M129.3 653.3 L137.5 650.1"/>
<path class="k" d="M132.6 655.7 L137.5 653.8"/>
<path class="t" fill="#000" d="M130.6 651.7 L135.9 651.7 L133.9 654.3Z"/>
<path class="k" d="M138.5 659.9 L153.1 653.3"/>
<path class="k" d="M153.8 651.7 L153.8 668.1"/>
<path class="k" stroke-width="2.6" d="M138.5 659.9 L154.4 672"/>
<path class="t" d="M140.1 659.6 L155.2 671.2"/>
<path class="k" d="M141.8 662.8 L153.1 658.3"/>
<path class="k" d="M145.1 665.4 L153.3 662.3"/>
<path class="k" d="M148.4 667.8 L153.3 666"/>
<path class="t" fill="#000" d="M146.5 663.8 L151.7 663.8 L149.8 666.5Z"/>
<path class="k" d="M154.4 672 L168.9 665.4"/>
<path class="k" d="M169.7 663.8 L169.7 680.2"/>
<path class="k" stroke-width="2.6" d="M154.4 672 L170.2 684.2"/>
<path class="t" d="M156 671.8 L171 683.4"/>
<path class="k" d="M157.7 674.9 L168.9 670.4"/>
<path class="k" d="M161 677.6 L169.2 674.4"/>
<path class="k" d="M164.3 680 L169.2 678.1"/>
<path class="t" fill="#000" d="M162.3 676 L167.6 676 L165.6 678.6Z"/>
<path class="k" d="M93 646.3 L107.5 639.7"/>
<path class="k" d="M108.3 638.1 L108.3 654.5"/>
<path class="k" stroke-width="2.6" d="M93 646.3 L108.8 658.4"/>
<path class="t" d="M94.6 646 L109.6 657.6"/>
<path class="k" d="M96.3 649.2 L107.5 644.7"/>
<path class="k" d="M99.6 651.8 L107.8 648.7"/>
<path class="k" d="M102.9 654.2 L107.8 652.4"/>
<path class="t" fill="#000" d="M100.9 650.3 L106.2 650.3 L104.2 652.9Z"/>
<path class="k" d="M108.8 658.4 L123.4 651.8"/>
<path class="k" d="M124.1 650.3 L124.1 666.6"/>
<path class="k" stroke-width="2.6" d="M108.8 658.4 L124.7 670.6"/>
<path class="t" d="M110.4 658.2 L125.5 669.8"/>
<path class="k" d="M112.1 661.3 L123.4 656.9"/>
<path class="k" d="M115.4 664 L123.6 660.8"/>
<path class="k" d="M118.7 666.4 L123.6 664.5"/>
<path class="t" fill="#000" d="M116.8 662.4 L122 662.4 L120.1 665Z"/>
<path class="k" d="M124.7 670.6 L139.2 664"/>
<path class="k" d="M140 662.4 L140 678.8"/>
<path class="k" stroke-width="2.6" d="M124.7 670.6 L140.5 682.7"/>
<path class="t" d="M126.3 670.3 L141.3 681.9"/>
<path class="k" d="M128 673.5 L139.2 669"/>
<path class="k" d="M131.3 676.1 L139.5 673"/>
<path class="k" d="M134.6 678.5 L139.5 676.7"/>
<path class="t" fill="#000" d="M132.6 674.5 L137.9 674.5 L135.9 677.2Z"/>
<path class="k" d="M140.5 682.7 L155 676.1"/>
<path class="k" d="M155.8 674.5 L155.8 690.9"/>
<path class="k" stroke-width="2.6" d="M140.5 682.7 L156.4 694.9"/>
<path class="t" d="M142.1 682.5 L157.1 694.1"/>
<path class="k" d="M143.8 685.6 L155 681.1"/>
<path class="k" d="M147.1 688.3 L155.3 685.1"/>
<path class="k" d="M150.4 690.6 L155.3 688.8"/>
<path class="t" fill="#000" d="M148.4 686.7 L153.7 686.7 L151.7 689.3Z"/>
<path class="k" d="M156.4 694.9 L170.9 688.3"/>
<path class="k" d="M171.7 686.7 L171.7 703.1"/>
<path class="k" stroke-width="2.6" d="M156.4 694.9 L172.2 707"/>
<path class="t" d="M157.9 694.6 L173 706.2"/>
<path class="k" d="M159.7 697.8 L170.9 693.3"/>
<path class="k" d="M163 700.4 L171.1 697.2"/>
<path class="k" d="M166.3 702.8 L171.1 700.9"/>
<path class="t" fill="#000" d="M164.3 698.8 L169.6 698.8 L167.6 701.5Z"/>
<path class="k" d="M95 667 L109.5 660.4"/>
<path class="k" d="M110.3 658.8 L110.3 675.2"/>
<path class="k" stroke-width="2.6" d="M95 667 L110.8 679.2"/>
<path class="t" d="M96.6 666.8 L111.6 678.4"/>
<path class="k" d="M98.3 669.9 L109.5 665.4"/>
<path class="k" d="M101.6 672.6 L109.8 669.4"/>
<path class="k" d="M104.9 674.9 L109.8 673.1"/>
<path class="t" fill="#000" d="M102.9 671 L108.2 671 L106.2 673.6Z"/>
<path class="k" d="M110.8 679.2 L125.3 672.6"/>
<path class="k" d="M126.1 671 L126.1 687.3"/>
<path class="k" stroke-width="2.6" d="M110.8 679.2 L126.7 691.3"/>
<path class="t" d="M112.4 678.9 L127.4 690.5"/>
<path class="k" d="M114.1 682.1 L125.3 677.6"/>
<path class="k" d="M117.4 684.7 L125.6 681.5"/>
<path class="k" d="M120.7 687.1 L125.6 685.2"/>
<path class="t" fill="#000" d="M118.7 683.1 L124 683.1 L122 685.8Z"/>
<path class="k" d="M126.7 691.3 L141.2 684.7"/>
<path class="k" d="M142 683.1 L142 699.5"/>
<path class="k" stroke-width="2.6" d="M126.7 691.3 L142.5 703.4"/>
<path class="t" d="M128.2 691 L143.3 702.7"/>
<path class="k" d="M130 694.2 L141.2 689.7"/>
<path class="k" d="M133.3 696.8 L141.4 693.7"/>
<path class="k" d="M136.6 699.2 L141.4 697.4"/>
<path class="t" fill="#000" d="M134.6 695.3 L139.9 695.3 L137.9 697.9Z"/>
<path class="k" d="M142.5 703.4 L157 696.8"/>
<path class="k" d="M157.8 695.3 L157.8 711.6"/>
<path class="k" stroke-width="2.6" d="M142.5 703.4 L158.3 715.6"/>
<path class="t" d="M144.1 703.2 L159.1 714.8"/>
<path class="k" d="M145.8 706.4 L157 701.9"/>
<path class="k" d="M149.1 709 L157.3 705.8"/>
<path class="k" d="M152.4 711.4 L157.3 709.5"/>
<path class="t" fill="#000" d="M150.4 707.4 L155.7 707.4 L153.7 710Z"/>
<path class="k" d="M158.3 715.6 L172.9 709"/>
<path class="k" d="M173.6 707.4 L173.6 723.8"/>
<path class="k" stroke-width="2.6" d="M158.3 715.6 L174.2 727.7"/>
<path class="t" d="M159.9 715.3 L175 726.9"/>
<path class="k" d="M161.6 718.5 L172.9 714"/>
<path class="k" d="M164.9 721.1 L173.1 718"/>
<path class="k" d="M168.2 723.5 L173.1 721.7"/>
<path class="t" fill="#000" d="M166.3 719.6 L171.5 719.6 L169.6 722.2Z"/>
<path class="k" d="M172.2 707 L186.1 701.7"/>
<path class="k" d="M173.5 714.3 L186.1 709.7"/>
<path class="k" stroke-width="2.6" d="M172.2 707 L180.1 713.3 L186.1 711"/>
<path class="k" d="M174.2 727.7 L188 722.5"/>
<path class="k" d="M175.5 735 L188 730.4"/>
<path class="k" stroke-width="2.6" d="M174.2 727.7 L182.1 734.1 L188 731.7"/>
<path class="t" d="M123.4 716.2 L123.4 760.8"/>
<!-- part 2: corner trim -->
<path class="k" d="M272.2 701.8 L257.1 690.6 L255.1 698.5 L254.8 709.7"/>
<path class="t" d="M255.7 701.1 L272.2 702.4"/>
<path class="k" d="M254.8 709.7 C256 711.1 259.2 714.4 261.7 718.3 C264.2 722.1 267 728.2 269.6 732.8 C272.2 737.4 274.9 741.2 277.5 746 C280.1 750.8 283 756.5 285.4 761.8 C287.8 767.1 290 772.6 292 777.7 C294 782.8 295.9 788.6 297.3 792.2 C298.7 795.8 299.3 795.4 300.6 799.5 C301.9 803.6 303.6 811.2 305.2 817 C306.8 822.8 309.2 829.5 310.5 834.1 C311.8 838.7 311.9 841.9 313.2 844.7 C314.5 847.5 317.5 849.9 318.4 850.9"/>
<path class="t" d="M257.1 703.8 C258.5 706.2 262.6 713.5 265.6 718.3 C268.6 723.1 272 727.8 274.9 732.8 C277.8 737.8 280.4 743.3 282.8 748.6 C285.2 753.9 287.2 759.2 289.4 764.5 C291.6 769.8 293.8 774.5 296 780.3 C298.2 786.1 300.4 794 302.6 799.5 C304.8 805 307.4 807.9 309.2 813 C311 818.1 311.9 825.1 313.2 830.2 C314.5 835.3 315.7 840.3 317.1 843.4 C318.5 846.5 320.9 847.7 321.7 848.6"/>
<path class="k" d="M272.2 701.8 C273.3 703.2 275.9 705.9 278.8 710.4 C281.7 714.9 285.6 722.4 289.4 728.8 C293.1 735.2 298 742.4 301.3 748.6 C304.6 754.8 306.8 760.7 309.2 765.8 C311.6 770.9 313.2 773.4 315.8 779 C318.4 784.6 322.4 794 325 799.5 C327.6 805 329.8 808.1 331.6 811.7 C333.4 815.3 333.8 818.4 335.6 820.9 C337.4 823.4 340.4 824.2 342.2 826.9 C344 829.5 345 833.6 346.2 836.8 C347.4 840 348.9 843.8 349.5 846 C350.1 848.2 350 849.3 350.1 850"/>
<path class="k" d="M318.4 851 L348.8 851"/>
<path class="k" d="M348.1 841.4 L359.4 839.4 L363.3 861.8 L356.7 867.1 L351.4 869.1 L340.6 869.5 L340.6 851.3"/>
<path class="t" d="M350.1 850.6 C351 850 354 848.8 355.4 847.3 C356.8 845.8 358.1 842.4 358.7 841.4"/>
<ellipse class="k" cx="346.8" cy="863.2" rx="1.8" ry="2.4" transform="rotate(-20 346.8 863.2)"/>
<path class="k" d="M251.1 808.8 L294 808.8"/>
<!-- part 14: sensor trim ring -->
<path class="k" d="M403.6 746 C404.9 745.4 408.3 743.1 411.5 742.1 C414.7 741.1 418.2 740.2 422.7 739.8 C427.2 739.4 435.1 739.5 438.6 739.6 C442.1 739.8 442.5 740.2 443.8 740.7 C445.1 741.2 446.1 741.4 446.5 742.4 C446.9 743.4 446.7 745.1 446.5 746.7 C446.3 748.3 446.1 750.4 445.2 752 C444.3 753.6 443 755.1 441.2 756.6 C439.4 758.1 436.1 760.1 434.6 761.2 C433.1 762.3 433.8 762.9 432 763.2 C430.2 763.5 425.8 763.5 424 763.2 C422.2 762.9 422.6 762.4 421.4 761.2 C420.2 760 418 756.8 416.8 755.9 C415.6 755 414.6 755.6 414.1 755.6"/>
<path class="k" stroke-width="2.4" d="M414.1 755.6 L403.6 746.7 L403.6 746"/>
<ellipse class="k" cx="433.9" cy="753.3" rx="13.5" ry="8.3" transform="rotate(-38 433.9 753.3)"/>
<path class="k" stroke-width="3" d="M426.7 746 C428 745.5 431.8 743.6 434.6 743.1 C437.5 742.6 442.3 742.8 443.8 742.7"/>
<path class="t" d="M395 748.5 L401.9 748.5"/>
<path class="t" d="M391.9 645.3 L425.5 731"/>
<!-- part 15: clip / cable strap -->
<path class="k" stroke-width="2.4" d="M513.9 684.6 C514.2 682.2 515.1 680.2 516.6 678.4 C518.1 676.6 519.9 675.2 522.9 673.9 C525.9 672.6 530 671.6 534.5 670.8 C539 670 544.7 669.8 549.6 669 C554.5 668.2 560.6 667.3 563.9 665.9 C567.2 664.5 567.5 662.6 569.3 660.5 C571.1 658.4 572.7 655.3 574.6 653.4 C576.5 651.5 579.1 649.7 580.9 648.9 C582.7 648.1 584.1 648.2 585.4 648.5 C586.7 648.8 587.6 650.5 588.9 650.7 C590.2 650.9 592.5 649.6 593.4 649.8 C594.3 650 593 651.5 594.3 652.1 C595.6 652.7 599.3 653 601.4 653.4 C603.5 653.8 605.8 653.8 606.8 654.3 C607.8 654.8 608.2 655.8 607.7 656.5 C607.2 657.2 606.6 657.7 604.1 658.8 C601.6 659.9 596.8 661.4 592.5 663.2 C588.2 665 581.2 667.7 578.2 669.5 C575.2 671.3 575.9 672.3 574.6 673.9 C573.3 675.5 572.3 677.1 570.2 679.3 C568.1 681.5 564.6 685.1 562.1 687.3 C559.6 689.5 557.8 691.1 555 692.7 C552.2 694.3 548.5 695.7 545.2 697.1 C541.9 698.5 538.8 700.5 535.4 701.2 C532 701.9 527.4 701.7 524.6 701.2 C521.8 700.7 520 699.4 518.4 698 C516.8 696.6 515.5 694.9 514.8 692.7 C514 690.5 513.6 687 513.9 684.6Z"/>
<path class="k" stroke-width="3.4" d="M520.2 690.9 C520.5 690.1 520.8 687.7 522 686.4 C523.2 685.1 523.9 683.8 527.3 682.9 C530.7 682 537.9 682.1 542.5 681.1 C547.1 680.1 550.8 678.2 555 676.6 C559.2 675 562.4 673.4 567.5 671.2 C572.6 669 579.9 665.7 585.4 663.2 C590.9 660.8 598 657.6 600.5 656.5"/>
<path class="t" fill="#000" d="M594.3 652.5 L606.8 654.3 L607.7 656.5 L599.6 657.9Z"/>
<path class="k" d="M520.2 690.9 C520.7 691.6 521.3 694.4 522.9 695.4 C524.5 696.4 527 697.1 530 697.1 C533 697.1 537.1 696.4 540.7 695.4 C544.3 694.4 547.8 693.1 551.4 690.9 C555 688.7 559.1 684.7 562.1 682 C565.1 679.3 568.1 676 569.3 674.8"/>
<path class="k" d="M527.3 683.8 C528.5 683.5 530.8 682.3 534.5 682 C538.2 681.7 548.1 681.1 549.6 682 C551.1 682.9 546.4 685.7 543.4 687.3 C540.4 688.9 535.4 691 531.8 691.8 C528.2 692.6 523.6 692.1 522 692.2"/>
<path class="k" d="M571.5 661.4 C570.9 660.6 573.9 656.9 575.5 655.2 C577.1 653.5 578.8 651.5 580.9 651.2 C583 650.9 587 652.4 588 653.4 C589 654.4 588.6 655.9 587.1 657 C585.6 658.1 581.7 659.4 579.1 660.1 C576.5 660.8 572.1 662.2 571.5 661.4Z"/>
<path class="k" stroke-width="3" d="M542.5 670.8 L549.6 670.8"/>
<path class="t" d="M505 691.3 L512.9 691.3"/>
<!-- part 12: sensor holder -->
<path class="k" stroke-width="2.4" d="M672.5 612.8 C673.2 612.7 679.3 614.7 680.5 614.8 C681.7 614.9 682.6 614.3 682.8 613.8 C683 613.3 682.2 611.3 682.4 610.8 C682.6 610.3 684.3 609.3 684.8 609.2 C685.3 609.1 686.4 609.5 687.1 609.9 C687.8 610.2 689.9 611.5 690.4 612.2 C690.9 612.9 690.8 615.5 691.7 616.1 C692.6 616.7 696.8 617.1 698.3 617.4 C699.8 617.7 703.2 618.5 704.9 618.8 C706.6 619.1 710.6 619.7 712.8 619.8 C715 619.9 722.2 619.8 724 619.8 C725.8 619.8 727.4 619.6 728 619.8 C728.6 620 728.8 620.6 729 621.4 C729.2 622.2 729.4 625.4 729.3 626.7 C729.2 628 728.5 631.4 728 632.6 C727.5 633.8 726.1 636.3 725.3 637.2 C724.5 638.1 722.2 639.9 721.4 640.5 C720.6 641.1 719.4 642.3 718.1 642.5 C716.8 642.7 712.1 643.1 710.2 642.5 C708.3 641.9 704.1 638.2 702.2 637.2 C700.3 636.2 696.1 634.9 694.3 633.9 C692.5 632.9 688.1 629.9 686.4 628.7 C684.7 627.5 681.2 624.9 679.8 624 C678.4 623.1 675.2 622.4 674.5 621.4 C673.8 620.4 674.4 616.5 674.2 615.5 C674 614.5 671.8 612.9 672.5 612.8Z"/>
<ellipse class="k" cx="719.1" cy="632" rx="11.6" ry="6.9" transform="rotate(-45 719.1 632)"/>
<path class="k" stroke-width="3" d="M675.8 622.7 L688.4 624 L708.8 624 L714.8 622.7"/>
<path class="k" d="M676.5 614.8 L679.8 620.1 L685.1 621.4 L681.8 616.1 L686.4 614.8 L687.1 619.4 L691.7 620.7"/>
<path class="t" stroke-width="1.4" d="M694.3 619.8 L711.5 621.4"/>
<path class="k" d="M709.5 633.3 L709.5 639.9"/>
<!-- part 9: tow hook cover -->
<path class="k" d="M886.8 488.2 C886.5 487.7 885.3 485.9 884.2 485.6 C883.1 485.3 881.2 485 878.9 485.8 C876.6 486.6 869.8 490 867 491.5 C864.2 493 860.4 495.6 857.8 497.4 C855.2 499.2 851.3 502.1 847.2 504.7 C843.1 507.3 832.1 514.1 827.4 517.2 C822.7 520.3 814.8 525.7 811.6 527.8 C808.4 529.9 806.8 530.8 803.6 533.1 C800.4 535.4 791.1 542.2 787.8 545 C784.5 547.8 782.1 551.4 778.6 554.2 C775.1 557 765.1 563.6 761.4 566.1 C757.7 568.6 752.9 571.4 750.8 573.3 C748.7 575.2 746.4 578.7 745.6 580.6 C744.8 582.5 744.4 585.6 744.9 587.2 C745.4 588.8 747.6 591.6 749.5 592.5 C751.4 593.4 755.8 594.1 758.8 593.8 C761.8 593.5 768.1 592.1 772 590.5 C775.9 588.9 783.1 584.8 787.8 581.9 C792.5 579 802.3 572.2 807.6 568.7 C812.9 565.2 823 558.4 827.4 555.5 C831.8 552.6 837.1 549.4 840.6 546.9 C844.1 544.4 850.6 539.7 853.8 537 C857 534.3 862.1 529.3 864.4 526.5 C866.7 523.7 869.8 518.9 871 515.9 C872.2 512.9 872.7 506.6 873.6 504 C874.5 501.4 875.8 498 877.6 496.1 C879.4 494.2 885.6 490.6 886.8 489.5 C888 488.4 887.1 488.7 886.8 488.2Z"/>
<path class="t" d="M748.2 588.5 C748.2 587.4 747.1 584.1 748.2 581.9 C749.3 579.7 750.4 578.6 754.8 575.3 C759.2 572 768 566.9 774.6 562.1 C781.2 557.3 787.8 551.1 794.4 546.3 C801 541.5 805.4 538.8 814.2 533.1 C823 527.4 838.4 517.7 847.2 512 C856 506.3 861.1 502.6 867 498.8 C872.9 495.1 880.2 491.1 882.8 489.5"/>
<path class="k" d="M803 532.4 L799.7 527.1 L805.6 523.8 L810.9 525.8 L811.6 528.5"/>
<path class="t" d="M803 527.8 L808.3 526.5 L808.9 529.8 L805 531.1Z"/>
<path class="k" d="M857.1 498.1 L853.8 492.8 L859.7 489.5 L865 491.5 L865.7 494.1"/>
<path class="t" d="M857.1 493.5 L862.4 492.2 L863 495.5 L859.1 496.8Z"/>
<path class="k" d="M797 556.8 C797.2 555.4 798.7 552.1 801 550.2 C803.3 548.3 810.3 544.6 814.2 542.3 C818.1 540 827 534.6 830 533.1 C833 531.6 835.5 531 836.6 531.1 C837.7 531.2 838.6 532.6 838.6 533.7 C838.6 534.8 838.1 538 836.6 539.7 C835.1 541.4 830.4 544.5 827.4 546.3 C824.4 548.1 817.2 551.1 814.2 552.9 C811.2 554.7 806.9 558.4 805 559.5 C803.1 560.6 800.8 561.2 799.7 560.8 C798.6 560.4 796.8 558.2 797 556.8Z"/>
<path class="k" d="M801 554.9 C803.2 553.8 809.8 550.6 814.2 548.3 C818.6 546 824.1 543.3 827.4 541 C830.7 538.7 832.9 535.5 834 534.4"/>
<!-- part 10: air duct -->
<path class="k" d="M140.6 240.9 L140.6 237 L181.5 211.9 L181.5 211.9 C182.6 211.6 185.7 210.2 188.1 210.3 C190.5 210.4 193.2 211.2 196 212.5 C198.8 213.8 202.1 216.4 205.2 217.8 C208.3 219.2 211.2 220.5 214.5 220.9 C217.8 221.3 221.5 220.9 225 220.5 C228.5 220.1 232.5 218.7 235.6 218.2 C238.7 217.7 242.4 217.5 243.8 217.4 L243.8 217.4 C244 218.9 244.2 223.4 244.8 226.4 C245.4 229.4 245.9 232.3 247.5 235.6 C249.1 238.9 251.7 243.1 254.1 246.2 C256.5 249.3 258.9 251.8 262 254.1 C265.1 256.4 269.5 258.3 272.6 260.1 C275.7 261.9 279.2 263.9 280.5 264.7 L280.5 264.7 L280.5 275.5 L278.5 276.3"/>
<path class="k" d="M140.6 240.9 L165 258.1 L165 267.3 L174.2 273.9 L176.2 292.4 L182.7 340.4 L264 294.4 L263.3 283.2"/>
<path class="k" d="M141.2 242.2 C141.8 245.1 143.1 254.1 144.5 259.4 C145.9 264.7 147.8 269.7 149.8 273.9 C151.8 278.1 153.5 281.2 156.4 284.5 C159.3 287.8 163.8 291.3 167 293.7 C170.2 296.1 174.1 298.1 175.5 299"/>
<path class="k" d="M176.2 291.1 C177.3 293.1 180.2 299.7 182.8 303 C185.4 306.3 188.7 309.4 192 310.9 C195.3 312.4 198.4 312.6 202.6 312.2 C206.8 311.8 214.7 308.9 217.1 308.2"/>
<path class="t" d="M217.1 308.2 L262 283.2"/>
<path class="t" d="M186.8 217.2 C187.7 220.7 189.6 231.7 192 238.3 C194.4 244.9 198.2 251.8 201.3 256.8 C204.4 261.9 207.9 265.8 210.5 268.6 C213.1 271.4 216 272.9 217.1 273.7"/>
<path class="t" d="M206.3 221.8 C207.2 225.2 209.6 236.1 211.8 242.2 C214.1 248.2 217.2 254 219.8 258.1 C222.5 262.2 226.4 265.3 227.7 266.7"/>
<path class="t" d="M207.2 284.5 L258 255.4"/>
<path class="t" d="M171.6 264.4 C174.6 265.8 185.1 269.7 189.4 272.6 C193.7 275.5 195.1 278.9 197.3 281.8 C199.5 284.7 201.7 288.5 202.6 289.8"/>
<path class="t" d="M180.2 283.4 C181.9 283.8 187.4 284.3 190.7 285.8 C194 287.3 198.4 291.3 200 292.4"/>
<path class="t" d="M205.9 290.4 L219.8 298.3"/>
<path class="t" d="M255.4 272.6 L250.1 268.6 L264.6 259.4 L269.9 262.7"/>
<path class="t" d="M258 272.6 L273.9 263.4"/>
<path class="k" d="M256.7 276.6 L263.3 281.8 L279.2 275.9"/>
<path class="k" d="M264 280.5 L264 273.9 L275.2 268 L275.9 273.9"/>
<path class="t" d="M256.7 276.6 L260 271.9"/>
<path class="t" d="M268.6 273.3 L281.8 280.5"/>
<path class="t" d="M198.4 185 L198.4 211.6"/>
<!-- part 16: support tray -->
<path class="k" d="M401.4 364.6 L388.9 371.8 L388.9 375.4 L451.4 398.6 L597 316.4 L597 312 L590.7 310.2"/>
<path class="t" d="M390.7 372.7 L451.4 395 L596.1 313.8"/>
<path class="t" d="M453.2 393.2 L580 322.1"/>
<path class="k" d="M401.4 361.1 L513.9 296.8"/>
<path class="t" d="M401.4 361.1 L402.3 364.6 L415.7 376.2"/>
<path class="t" d="M415.7 375.4 C418.7 375.8 428.2 377.9 433.6 378 C439 378.1 444.6 376.8 447.9 376.2 C451.2 375.6 452.3 374.8 453.2 374.5"/>
<path class="t" d="M452.3 375.4 L452.3 393.2"/>
<path class="t" d="M453.2 374.5 L558.6 314.6 L587.1 298.6"/>
<path class="t" d="M455 376.2 L560.4 316.4 L588 300.7"/>
<path class="k" d="M526.4 288.8 C527.1 288.6 530.1 286.9 531.8 287 C533.5 287.1 537 288.9 538.9 289.6 C540.8 290.3 544.7 292.4 546.1 292.3 C547.5 292.2 548.2 288.9 549.6 288.8 C551 288.7 556 290.3 556.8 291.4 C557.6 292.5 556 296.1 555.9 296.8"/>
<path class="k" d="M555.9 296.8 L585.4 297.7 L588.9 300.4 L588.9 311.1 L597 312"/>
<path class="t" d="M587.1 298.6 L588 312.9"/>
<ellipse class="t" cx="554.1" cy="295" rx="2.1" ry="3.9" transform="rotate(20 554.1 295)"/>
<path class="k" d="M513.6 299.5 L520.2 299.5 L520.2 304.8 L513.6 304.8Z"/>
<circle class="k" cx="474.1" cy="326.2" r="3.6"/>
<path class="k" d="M430 346.4 L436.2 346.4 L436.2 353 L430 353Z"/>
<path class="t" d="M430 349.8 L436.2 349.8"/>
<path class="k" fill="#000" d="M413.9 367.9 L427.3 370 L423.8 374.5 L415.7 373.6Z"/>
<path class="t" d="M516.6 287.9 L516.6 300.4"/>
<path class="t" d="M516.6 287.9 L641.4 359.8"/>
<path class="t" d="M446.4 295 L446.4 325.7"/>
<path class="t" d="M516.6 366.4 L516.6 379.3"/>
<!-- part 13: PDC sensor -->
<path class="k" stroke-width="2.6" d="M231.2 387.6 L240.2 387.6 L249.9 398.5 L257.7 399.3 L257.7 403.5 L255.8 403.9"/>
<path class="k" stroke-width="2.6" d="M255.8 403.9 C255.9 404.8 256.5 407.4 256.6 409 C256.7 410.6 256.8 412.4 256.6 413.7 C256.4 415 256.2 415.8 255.4 416.8 C254.6 417.8 252.5 419.1 251.9 419.5"/>
<path class="k" stroke-width="3" d="M252.3 404.7 C250.9 405 246.1 405.1 243.7 406.3 C241.3 407.5 239 409.8 237.8 412.1 C236.6 414.4 236.1 417.9 236.3 419.9 C236.5 421.9 237.2 423.6 239 424.2 C240.8 424.8 245.5 423.5 246.8 423.4"/>
<path class="k" stroke-width="3" d="M221.8 406.7 C222.7 407.9 225.1 411 227.3 413.7 C229.5 416.4 233.2 421.2 235.1 423 C237 424.8 238.3 424.3 239 424.6"/>
<path class="k" stroke-width="3" d="M249.9 398.5 L253 404.3"/>
<path class="k" stroke-width="2.4" d="M217.6 389.9 L225 383.3 L230 387.9 L223.4 392.6Z"/>
<path class="k" d="M220.3 390.7 L225.7 386"/>
<path class="k" stroke-width="2.6" d="M230 387.9 L228.9 393.4 L225 396.9 L221.5 395.7 L221.1 401.2"/>
<path class="k" stroke-width="2.4" d="M216.4 403.5 L220.3 402.4 L223.4 397.7 L230.4 403.5 L230.4 405.7 L216.4 407.6Z"/>
<path class="k" d="M223.4 399.6 L227.3 404.3"/>
<path class="k" stroke-width="2.6" d="M225 408.2 L230 408.2"/>
<path class="k" d="M231.2 390.3 L236.7 397.3"/>
<path class="k" stroke-width="3" d="M235.1 397.7 L238.2 397.7"/>
<path class="t" d="M240.4 361 L240.4 385.6"/>
<!-- part 11: PDC sensor -->
<path class="k" stroke-width="2.6" d="M351.7 434.3 C351.9 433.5 353.5 427.6 354 426.5 C354.5 425.4 355.7 423.7 356.3 423.4 C356.9 423.1 359.6 423.6 360.2 423.4 C360.8 423.2 362.4 421.7 362.6 421.5"/>
<path class="k" stroke-width="3" d="M362.6 421.5 L369.6 425.7 L375.8 429.6 L385.2 435.9"/>
<path class="k" stroke-width="2.6" d="M385.2 435.9 C385.5 436.4 387.4 439.3 387.5 440.6 C387.6 441.9 386.9 445.3 386 446.8 C385.1 448.3 380.8 452.8 379.7 453.8 C378.6 454.8 377.6 455.3 376.6 455.4 C375.6 455.5 373 455.6 371.2 455 C369.4 454.4 362.6 450.9 361 449.9 C359.4 448.9 357.6 447.2 357.1 446.8"/>
<ellipse class="k" cx="379.4" cy="446.2" rx="7" ry="9.2" transform="rotate(25 379.4 446.2)"/>
<path class="k" stroke-width="2.6" d="M327.5 435.9 C327.5 435.7 327.3 434 327.5 433.5 C327.7 433 328.4 431.6 329.8 431.2 C331.2 430.8 339.8 430.2 341.5 430 C343.2 429.8 346.1 429.5 347 429.6 C347.9 429.7 349.6 430.7 350.1 431.2 C350.6 431.7 351.5 434 351.7 434.3"/>
<path class="k" stroke-width="3" d="M327.5 435.9 L330.6 439.8 L335.3 439 L337.6 440.6 L341.5 440.6 L344.6 446 L357.1 446.8"/>
<path class="k" stroke-width="2.4" d="M330.6 434.3 L340.7 434.7"/>
<path class="k" stroke-width="2.4" d="M342.3 431.2 L342.3 437.4 L347 439 L347 431.2"/>
<path class="k" stroke-width="2.4" d="M347.8 434.3 L351.7 443.7 L357.1 446 L360.2 440.6 L351.7 435.1"/>
<path class="k" stroke-width="3" d="M354 439.8 L358.7 442.1"/>
<path class="k" stroke-width="2.4" d="M369.6 433.9 L377.4 430.4 L382.9 427.3 L385.6 430 L383.6 433.5 L372.7 435.5Z"/>
<path class="k" d="M361 440.6 L361 449.1"/>
<path class="k" stroke-width="1.6" d="M361.8 440.6 L368.8 430 L373.5 429.6"/>
<path class="t" d="M364.5 368.8 L364.5 420.7"/>
<!-- part 5: clip -->
<path class="k" d="M25.2 420.6 L29.8 418 L45.6 425.9 L47 433.8 L54.9 435.2 L70.7 443.1 L71.4 448.4 L71.4 469.5 L68.1 471.5 L49.6 459.6 L43.7 455.6 L29.8 449 L25.2 443.1Z"/>
<path class="k" d="M34.4 418 L35.1 401.5 L37.7 400.8 L80 426.6 L81.3 428.6 L81.3 449.7 L72 458.9"/>
<path class="k" d="M40.4 404.1 L49.6 400.8 L51.6 402.8 L45.6 406.8"/>
<path class="k" d="M80 426.6 L87.9 422.6 L88.5 425.3 L82.6 429.2"/>
<path class="k" d="M31.8 418 L34.4 409.4 L36.4 410.1 L35.7 420"/>
<path class="k" d="M45 428.6 L47.6 416.7 L50.3 418 L50.3 431.9"/>
<path class="k" d="M60.8 435.2 L62.8 425.9 L65.4 427.2 L65.4 437.1"/>
<path class="k" d="M74.7 448.4 L77.3 433.8 L79.3 435.2 L77.3 449.7"/>
<path class="t" fill="#000" d="M56.2 423.3 L60.2 423.3 L58.8 427.2Z"/>
<path class="t" d="M29.8 420 L44.3 427.2"/>
<path class="t" d="M54.9 436.5 L69.4 444.1"/>
<path class="t" d="M72.7 448.4 L72.7 458.9"/>
<path class="t" d="M53.6 466.2 L53.6 521"/>
<!-- part 6: clip -->
<path class="k" d="M109.7 457.6 L122.2 453.6 L149.9 468.8 L152.6 472.1 L153.2 498.5 L148.6 500.5 L119.6 484 L115.6 477.4 L114.9 472.8 L109.7 470.1Z"/>
<path class="k" d="M124.2 439.1 L122.2 435.2 L135.4 426.6 L142.7 431.2 L142.7 434.5 L129.5 441.1 L124.2 439.1 L124.2 449.7 L115.6 458.9"/>
<path class="k" d="M122.2 435.2 L122.2 448.4 L114.3 457.6"/>
<path class="k" d="M137.4 436.5 L137.4 462.2"/>
<path class="k" d="M122.2 460.2 L132.1 465.4 L132.1 471.7 L122.2 466.2Z"/>
<path class="k" d="M122.2 476.1 L132.1 481.2 L132.1 487.6 L122.2 482Z"/>
<path class="k" d="M138 476.1 L149.9 482.3 L149.9 488.6 L138 482Z"/>
<path class="k" d="M153.2 480 L159.2 476.7 L165.1 477.4 L165.1 486 L159.2 485.3 L153.9 489.3"/>
<path class="t" d="M153.9 483.3 L160.5 479.4"/>
<path class="t" d="M120.9 456.3 L147.3 470.8 L151.2 474.8"/>
<path class="t" d="M129.5 494.3 L129.5 519.6"/>
<!-- part 21: parts kit box -->
<path class="k" d="M1107.4 277.6 L1201 224.1 L1272.2 264.5 L1272.2 308.2 L1179.2 361.9 L1107.4 320.3Z"/>
<path class="t" d="M1107.4 277.6 L1179.2 319.2 L1272.2 264.5"/>
<path class="t" d="M1179.2 319.2 L1179.2 361.9"/>
<path class="k" stroke-width="3" d="M1144.8 298.4 L1237.4 245"/>
<path class="t" d="M1070.4 303.2 L1102.8 303.2"/>
<!-- legend: expanding rivet 20 -->
<ellipse class="k" cx="1238.4" cy="588.4" rx="15" ry="9.2"/>
<path class="k" d="M1233.7 597.6 L1233.7 608.4"/>
<path class="k" d="M1242.9 597.6 L1242.9 608.4"/>
<path class="k" d="M1233.7 608.1 C1234.4 608.4 1236.6 609.8 1238.1 609.8 C1239.6 609.8 1242.1 608.4 1242.9 608.1"/>
<path class="k" d="M1230.4 604.8 C1229.6 605.3 1226.2 606.3 1225.4 607.6 C1224.6 608.9 1224.3 611.2 1225.4 612.6 C1226.5 614 1230 615.4 1232.1 616 C1234.2 616.6 1235.9 616.6 1238.1 616.5 C1240.3 616.4 1243.2 616.3 1245.4 615.6 C1247.6 614.9 1250.4 613.5 1251.3 612.1 C1252.2 610.7 1251.7 608.3 1250.8 607.1 C1249.9 605.9 1246.6 605.2 1245.8 604.8"/>
<path class="k" d="M1227.1 615.1 C1226.9 617.3 1225.7 625.1 1226.2 628.5 C1226.8 631.9 1228.6 633.7 1230.4 635.2 C1232.2 636.7 1234.6 637.7 1237.1 637.7 C1239.6 637.7 1243.3 636.7 1245.4 635.2 C1247.5 633.7 1248.9 631.9 1249.6 628.5 C1250.3 625.1 1249.6 617.3 1249.6 615.1"/>
<path class="t" stroke-width="1.4" d="M1227.6 618.8 C1228.5 619.2 1231.2 620.6 1232.9 621.1 C1234.7 621.6 1236.3 621.5 1238.1 621.5 C1239.9 621.5 1241.9 621.6 1243.8 621.1 C1245.7 620.6 1248.4 619.2 1249.3 618.8"/>
<path class="t" stroke-width="1.4" d="M1227.6 623 C1228.5 623.4 1231.2 624.9 1232.9 625.3 C1234.7 625.7 1236.3 625.6 1238.1 625.6 C1239.9 625.6 1241.9 625.7 1243.8 625.3 C1245.7 624.9 1248.4 623.4 1249.3 623"/>
<path class="t" stroke-width="1.4" d="M1227.6 627.1 C1228.5 627.5 1231.2 629 1232.9 629.5 C1234.7 630 1236.3 629.8 1238.1 629.8 C1239.9 629.8 1241.9 630 1243.8 629.5 C1245.7 629 1248.4 627.5 1249.3 627.1"/>
<path class="t" stroke-width="1.4" d="M1227.6 630.8 C1228.5 631.2 1231.2 632.8 1232.9 633.2 C1234.7 633.7 1236.3 633.5 1238.1 633.5 C1239.9 633.5 1241.9 633.7 1243.8 633.2 C1245.7 632.8 1248.4 631.2 1249.3 630.8"/>
<path class="k" stroke-width="3" d="M1237.4 621.8 L1237.4 632.2"/>
<path class="k" d="M1225.7 622.6 L1225.7 627.6"/>
<path class="k" d="M1250.4 622.6 L1250.4 627.6"/>
<!-- legend: clip nut 17 -->
<path class="k" d="M1099.3 673.6 L1116.8 663.6 L1124.3 660.6 L1148.5 681.9 L1159.4 681.9 L1159.7 685.6 L1133.5 698.6 L1123.5 699.5 L1099.3 678.9"/>
<path class="k" d="M1100.1 678.9 L1093.4 677.8 L1090.9 680.6 L1091.7 687 L1131.8 709.5 L1159.4 694.5 L1159.4 691.1 L1153.6 690.3"/>
<path class="t" stroke-width="1.4" d="M1094.2 681.9 L1121.8 701.2 L1132.7 702.3"/>
<path class="t" d="M1095.9 680.3 L1122.6 698.6"/>
<ellipse class="k" cx="1122.6" cy="680.6" rx="9.2" ry="4.2"/>
<ellipse class="t" cx="1122.6" cy="681.3" rx="4.7" ry="2.2"/>
<path class="t" d="M1126.8 695.3 L1148.5 684.4"/>
<!-- legend: screw 18 -->
<path class="k" d="M1215.4 660.2 C1215.6 658.2 1218.8 652.1 1220.4 650.2 C1222 648.3 1224.6 646.6 1227.1 646 C1229.6 645.4 1236.5 645.4 1238.8 646 C1241.1 646.6 1243.2 648.3 1244.6 650.2 C1246 652.1 1249.3 658.2 1249.6 660.2 C1249.9 662.2 1248.3 664.1 1247.1 665.2 C1245.9 666.3 1243.1 668.1 1240.4 668.6 C1237.7 669.1 1230 669.1 1227.1 668.6 C1224.2 668.1 1220.3 666.3 1218.7 665.2 C1217.1 664.1 1215.2 662.2 1215.4 660.2Z"/>
<path class="t" d="M1217.9 657.7 C1219.4 658.5 1223.6 661.9 1227.1 662.7 C1230.6 663.5 1235.3 663.5 1238.8 662.7 C1242.3 661.9 1246.4 658.5 1247.9 657.7"/>
<path class="k" d="M1228.7 651 L1232.1 652.7 L1234.6 650.5 L1237.1 652.7"/>
<path class="k" d="M1225.4 669.4 L1225.4 683.6 L1239.6 683.6 L1239.6 669.4"/>
<path class="k" d="M1225.4 682.8 C1226.5 683.1 1229.7 684.9 1232.1 684.9 C1234.5 684.9 1238.3 683.1 1239.6 682.8"/>
<path class="k" d="M1227.1 688.3 C1228.1 688.1 1230.8 687.9 1232.9 687.3 C1235 686.7 1238.5 685.3 1239.6 684.9"/>
<path class="t" stroke-width="1.4" d="M1227.1 688.3 C1227 688.7 1226.4 689.8 1226.4 690.6 C1226.5 691.4 1227.2 692.6 1227.4 693"/>
<path class="t" stroke-width="1.4" d="M1239.6 684.9 C1239.7 685.4 1240.4 686.8 1240.4 687.6 C1240.4 688.5 1239.7 689.6 1239.6 690"/>
<path class="k" d="M1227.1 693.3 C1228.1 693.1 1230.8 692.8 1232.9 692.3 C1235 691.8 1238.5 690.4 1239.6 690"/>
<path class="t" stroke-width="1.4" d="M1227.1 693.3 C1227 693.7 1226.4 694.8 1226.4 695.6 C1226.5 696.4 1227.2 697.6 1227.4 698"/>
<path class="t" stroke-width="1.4" d="M1239.6 690 C1239.7 690.4 1240.4 691.8 1240.4 692.6 C1240.4 693.4 1239.7 694.6 1239.6 695"/>
<path class="k" d="M1227.1 698.3 C1228.1 698.1 1230.8 697.8 1232.9 697.3 C1235 696.8 1238.5 695.4 1239.6 695"/>
<path class="t" stroke-width="1.4" d="M1227.1 698.3 C1227 698.7 1226.4 699.8 1226.4 700.6 C1226.5 701.4 1227.2 702.6 1227.4 703"/>
<path class="t" stroke-width="1.4" d="M1239.6 695 C1239.7 695.4 1240.4 696.8 1240.4 697.6 C1240.4 698.4 1239.7 699.6 1239.6 700"/>
<path class="k" d="M1227.1 703.3 C1228.1 703.1 1230.8 702.8 1232.9 702.3 C1235 701.8 1238.5 700.4 1239.6 700"/>
<path class="t" stroke-width="1.4" d="M1227.1 703.3 C1227 703.7 1226.4 704.9 1226.4 705.7 C1226.5 706.5 1227.2 707.6 1227.4 708"/>
<path class="t" stroke-width="1.4" d="M1239.6 700 C1239.7 700.5 1240.4 701.9 1240.4 702.7 C1240.4 703.5 1239.7 704.6 1239.6 705"/>
<path class="k" d="M1227.1 708.3 C1228.1 708.1 1230.8 707.8 1232.9 707.3 C1235 706.8 1238.5 705.4 1239.6 705"/>
<path class="t" stroke-width="1.4" d="M1227.1 708.3 C1227 708.7 1226.4 709.9 1226.4 710.7 C1226.5 711.5 1227.2 712.6 1227.4 713"/>
<path class="t" stroke-width="1.4" d="M1239.6 705 C1239.7 705.5 1240.4 706.9 1240.4 707.7 C1240.4 708.5 1239.7 709.6 1239.6 710"/>
<path class="k" d="M1227.1 713.3 C1228.1 713.1 1230.8 712.8 1232.9 712.3 C1235 711.8 1238.5 710.4 1239.6 710"/>
<path class="t" stroke-width="1.4" d="M1227.1 713.3 C1227 713.7 1226.4 714.9 1226.4 715.7 C1226.5 716.5 1227.2 717.6 1227.4 718"/>
<path class="t" stroke-width="1.4" d="M1239.6 710 C1239.7 710.5 1240.4 711.9 1240.4 712.7 C1240.4 713.5 1239.7 714.6 1239.6 715"/>
<!-- legend: screw 8 -->
<path class="k" d="M1011 734.6 C1011.1 732.7 1012.5 727.3 1013.5 725.4 C1014.5 723.5 1016.9 721.3 1018.5 720.4 C1020.1 719.5 1023.2 719 1025.2 719 C1027.2 719 1031.8 719.5 1033.5 720.4 C1035.2 721.3 1036.9 723.5 1037.7 725.4 C1038.5 727.3 1039.4 732.7 1039.4 734.6 C1039.4 736.5 1038.7 738.5 1037.7 739.6 C1036.7 740.7 1033.5 742.4 1031.8 742.9 C1030.1 743.4 1027.1 743.7 1025.2 743.7 C1023.3 743.7 1019.3 743.4 1017.6 742.9 C1015.9 742.4 1013.5 740.7 1012.6 739.6 C1011.7 738.5 1010.9 736.5 1011 734.6Z"/>
<ellipse class="t" cx="1025.2" cy="727.4" rx="10" ry="5.3"/>
<path class="t" d="M1011.8 732 C1012.9 732.6 1015.2 734.8 1018.5 735.4 C1021.8 736 1028.5 736 1031.8 735.4 C1035.1 734.8 1037.4 732.6 1038.5 732"/>
<path class="k" d="M1020.2 726.2 L1023.5 727.9 L1023.5 729.5 L1027.7 729.5 L1027.7 727.4 L1031 726.2"/>
<path class="k" d="M1025.5 723.7 L1025.5 727.9"/>
<path class="k" d="M1018.1 743.4 L1018.1 780.5 L1025.5 787.2 L1032.7 780.5 L1032.7 743.4"/>
<path class="k" stroke-width="1.6" d="M1018.1 747.9 C1018.7 748.1 1020.1 749.1 1021.8 749.3 C1023.5 749.5 1026.7 749.5 1028.5 749.3 C1030.3 749.1 1032 748.1 1032.7 747.9"/>
<path class="k" stroke-width="1.6" d="M1018.1 752.6 C1018.7 752.8 1020.1 753.7 1021.8 753.9 C1023.5 754.1 1026.7 754.1 1028.5 753.9 C1030.3 753.7 1032 752.8 1032.7 752.6"/>
<path class="k" stroke-width="1.6" d="M1018.1 757.3 C1018.7 757.5 1020.1 758.4 1021.8 758.6 C1023.5 758.8 1026.7 758.8 1028.5 758.6 C1030.3 758.4 1032 757.5 1032.7 757.3"/>
<path class="k" stroke-width="1.6" d="M1018.1 761.9 C1018.7 762.1 1020.1 763.1 1021.8 763.3 C1023.5 763.5 1026.7 763.5 1028.5 763.3 C1030.3 763.1 1032 762.1 1032.7 761.9"/>
<path class="k" stroke-width="1.6" d="M1018.1 766.6 C1018.7 766.8 1020.1 767.8 1021.8 768 C1023.5 768.2 1026.7 768.2 1028.5 768 C1030.3 767.8 1032 766.8 1032.7 766.6"/>
<path class="k" stroke-width="1.6" d="M1018.1 771.3 C1018.7 771.5 1020.1 772.4 1021.8 772.6 C1023.5 772.8 1026.7 772.8 1028.5 772.6 C1030.3 772.4 1032 771.5 1032.7 771.3"/>
<path class="k" stroke-width="1.6" d="M1018.1 776 C1018.7 776.2 1020.1 777.1 1021.8 777.3 C1023.5 777.5 1026.7 777.5 1028.5 777.3 C1030.3 777.1 1032 776.2 1032.7 776"/>
<path class="k" stroke-width="1.6" d="M1018.1 780.7 C1018.7 780.9 1020.1 781.8 1021.8 782 C1023.5 782.2 1026.7 782.2 1028.5 782 C1030.3 781.8 1032 780.9 1032.7 780.7"/>
<path class="t" d="M1021.8 783 L1025.5 785.5 L1029.3 783"/>
<!-- legend: clip nut 7 -->
<path class="k" d="M994.3 827.3 L1020.2 813.9 L1023.5 814.2 L1046 836.5 L1055.2 835.6 L1057.2 837.3 L1056.1 839.8 L1030.2 853.2 L1019.3 854 L994.3 829.3"/>
<path class="k" d="M995.1 828.9 L991.8 828.9 L989.2 831.4 L989.2 840.6 L1028.5 862.4 L1056.1 848.2 L1056.1 844 L1051.1 843.1"/>
<path class="t" stroke-width="1.4" d="M992.1 832.6 L1019.3 856 L1029.3 857"/>
<path class="t" d="M993.1 830.9 L1018.5 852.3"/>
<ellipse class="k" cx="1020.2" cy="834.3" rx="8.7" ry="4.2"/>
<ellipse class="t" cx="1020.5" cy="835.3" rx="4.7" ry="2.2"/>
<path class="t" d="M1023.5 849 L1045.2 838.1"/>
<!-- car silhouette -->
<path class="t" d="M1068.4 815.2 C1068.8 814.5 1069.9 812.4 1071.7 810.2 C1073.5 808 1078.8 801.4 1081.7 798.5 C1084.6 795.6 1089.8 790.9 1093.4 788.5 C1097 786.1 1105.7 782 1108.4 780.2 C1111.1 778.4 1111.5 777.1 1113.5 775.1 C1115.5 773.1 1120.6 767.7 1123.5 765.1 C1126.4 762.5 1131.4 758.6 1135.2 755.9 C1139 753.2 1147.7 747.5 1151.9 745.1 C1156.1 742.7 1163.6 739.4 1166.9 737.6 C1170.2 735.8 1174.2 732.8 1176.9 731.7 C1179.6 730.6 1183.7 729.8 1187 729.2 C1190.3 728.6 1198 728.6 1202 727.5 C1206 726.4 1213.7 721.3 1217 720.8 C1220.3 720.3 1224 722.1 1227.1 723.4 C1230.2 724.7 1237.1 728.9 1240.4 730.9 C1243.7 732.9 1249.4 736.5 1252.1 738.4 C1254.8 740.3 1259 742.4 1260.5 745.1 C1262 747.8 1262.3 756.2 1263 758.4 C1263.7 760.6 1265.3 760.5 1265.5 761.8 C1265.7 763.1 1265.5 766.3 1264.6 768.5 C1263.7 770.7 1260.7 776.1 1258.8 778.5 C1256.9 780.9 1251.9 785.6 1250.4 786.8 C1248.9 788 1248.2 787.6 1247.9 787.7"/>
<path class="t" d="M1108.4 780.2 C1108.4 780.6 1107.7 782.3 1108.4 783.5 C1109.1 784.7 1111.5 787.6 1113.5 789.3 C1115.5 791 1120.6 794.3 1123.5 796 C1126.4 797.7 1132.1 800.5 1135.2 801.9 C1138.3 803.3 1144 805.6 1146.9 806.5 C1149.8 807.4 1155.6 808.3 1156.9 808.6"/>
<path class="t" d="M1135.2 755.9 C1136.8 757.1 1143.6 762.9 1146.9 765.1 C1150.2 767.3 1156.4 770.7 1160.2 772.6 C1164 774.5 1173.3 778.4 1175.3 779.3"/>
<path class="t" d="M1175.3 779.3 C1176 778.7 1178.3 776.7 1180.3 775.1 C1182.3 773.5 1187.2 769.6 1190.3 767.6 C1193.4 765.6 1200.4 761.6 1203.7 760.1 C1207 758.6 1212.3 756.6 1215.4 756.4 C1218.5 756.2 1224.9 757.6 1227.1 758.4 C1229.3 759.2 1231.7 761.4 1232.1 762.6 C1232.5 763.8 1232 765.9 1230.4 767.6 C1228.8 769.3 1223.5 773 1220.4 775.1 C1217.3 777.2 1210.6 781.3 1207 783.5 C1203.4 785.7 1197.4 789.4 1193.6 791.8 C1189.8 794.2 1180.6 800.2 1178.6 801.5"/>
<path class="t" d="M1175.3 779.3 C1174.6 780.8 1171.2 787.6 1170.3 790.2 C1169.4 792.8 1168.8 797.4 1168.6 798.5"/>
<path class="t" d="M1187 729.2 C1188.6 730 1195.6 733.2 1198.7 735 C1201.8 736.8 1207.5 740.5 1210.4 742.6 C1213.3 744.7 1218.2 749.6 1220.4 750.9 C1222.6 752.2 1224 752.4 1227.1 752.6 C1230.2 752.8 1239.3 753.6 1243.8 752.6 C1248.3 751.6 1258.3 746.1 1260.5 745.1"/>
<path class="t" d="M1202 727.5 C1204.2 728.3 1214.5 731.5 1218.7 733.4 C1222.9 735.3 1230.4 739.2 1233.7 741.7 C1237 744.2 1242.5 750.5 1243.8 751.8"/>
<path class="t" d="M1105.1 785.2 C1103.5 787 1096.3 794.9 1093.4 798.5 C1090.5 802.1 1085.4 808.8 1083.4 811.9 C1081.4 815 1079.2 819.7 1078.4 821.9 C1077.6 824.1 1077.6 827.7 1077.5 828.6"/>
<path class="t" d="M1068.4 815.2 C1069.5 816.7 1075.4 824.1 1076.7 826.1 C1078 828.1 1078.2 829.7 1078.4 830.3"/>
<path class="t" d="M1066.3 820.2 C1066.4 821.5 1065.8 827.8 1066.7 830.3 C1067.6 832.8 1070.9 836.4 1073.4 838.6 C1075.9 840.8 1081.8 845 1085.1 847 C1088.4 849 1094.6 852.1 1098.4 853.7 C1102.2 855.3 1110.2 858.1 1113.5 858.7 C1116.8 859.3 1121.7 858.1 1123.5 858.3 C1125.3 858.5 1125.5 859.7 1126.8 860.3 C1128.1 860.9 1131.5 862.7 1133.5 862.8 C1135.5 862.9 1139.9 862.4 1141.9 861.2 C1143.9 860 1146.9 856 1148.5 853.7 C1150.1 851.4 1152.9 844.9 1153.6 843.6"/>
<path class="t" d="M1095.9 842 C1097.4 842.7 1104 846.1 1106.8 847 C1109.6 847.9 1114.1 848.6 1116.8 848.6 C1119.5 848.6 1124.8 847.4 1126.8 847 C1128.8 846.6 1131.1 845.5 1131.8 845.3"/>
<path class="t" d="M1097.6 839.5 C1099.7 839.9 1110.3 841.8 1113.5 842.3 C1116.7 842.8 1120.5 843.2 1121.8 843.6 C1123.1 844 1123.3 845.1 1123.5 845.3"/>
<path class="t" d="M1097.6 838.6 C1098.2 838 1097.9 836.4 1101.8 834.4 C1105.7 832.4 1120.8 826.4 1126.8 823.6 C1132.8 820.8 1142.9 815.6 1146.9 813.6 C1150.9 811.6 1155.6 809.5 1156.9 808.9"/>
<path class="t" d="M1156.9 808.9 C1156.7 809.6 1156.5 812.9 1155.2 814.4 C1153.9 815.9 1150 818.1 1146.9 820.2 C1143.8 822.3 1136 827.5 1131.8 830.3 C1127.6 833.1 1117.3 839.7 1115.1 841.1"/>
<path class="t" d="M1127.7 857.8 C1127.9 856.6 1128.3 851 1129.3 848.6 C1130.3 846.2 1133.3 841.5 1135.2 839.5 C1137.1 837.5 1141.3 834.5 1143.5 833.6 C1145.7 832.7 1150.4 832.3 1151.9 832.8 C1153.4 833.3 1154 835.6 1154.4 837 C1154.8 838.4 1155.1 842.7 1155.2 843.6"/>
<path class="t" d="M1155.2 843.6 C1157 842.7 1164.6 839 1168.6 837 C1172.6 835 1180.8 831.3 1185.3 828.6 C1189.8 825.9 1197.3 819.8 1202 816.9 C1206.7 814 1217.9 808.2 1220.4 806.9"/>
<path class="t" d="M1220.4 806.9 C1220.8 806.2 1222.8 804.1 1223.7 801.9 C1224.6 799.7 1225.8 792.9 1227.1 790.2 C1228.4 787.5 1231.7 783.4 1233.7 781.8 C1235.7 780.2 1240.3 778.8 1242.1 778.5 C1243.9 778.2 1246.1 778.4 1247.1 779.3 C1248.1 780.2 1249.3 784.4 1249.6 785.2"/>
<path class="t" d="M1220.4 806 C1221.3 806.6 1225.1 809.9 1227.1 810.2 C1229.1 810.5 1233.4 809.7 1235.4 808.6 C1237.4 807.5 1240.6 804.1 1242.1 801.9 C1243.6 799.7 1245.6 793.8 1246.3 791.8 C1247 789.8 1247 787.5 1247.1 786.8"/>
<path class="t" d="M1161.9 808.6 L1168.6 798.5"/>
<path class="t" d="M1168.6 801.9 C1169.7 802 1175.4 802.2 1176.9 802.7 C1178.4 803.2 1179.8 805.1 1179.9 806 C1180 806.9 1179.1 809 1177.8 809.4 C1176.5 809.8 1172.4 809.1 1170.3 808.9 C1168.2 808.7 1163 808.3 1161.9 808.2"/>
<path class="t" d="M1263 762.6 L1247.1 775.1"/>
<path class="t" d="M1068.4 816.9 C1068.5 817.6 1068.1 820.2 1069.2 821.9 C1070.3 823.6 1075.7 828.4 1076.7 829.4"/>
<path class="t" stroke-width="1.4" d="M1108.4 766.8 C1108.5 765.7 1109.2 765.1 1110.1 765.1 C1110.9 765.1 1112.8 765.7 1113.5 766.8 C1114.2 767.9 1114.6 770.3 1114.3 771.8 C1114 773.3 1112.6 776 1111.8 776 C1111 776 1109.9 773.3 1109.3 771.8 C1108.7 770.3 1108.3 767.9 1108.4 766.8Z"/>
<path class="t" d="M1111.8 776 L1108.4 780.2"/>
<path class="t" stroke-width="1.4" d="M1079.2 827.8 L1083.4 828.6 L1086.7 831.9 L1086.4 836.1 L1081.7 834.4 L1079.2 830.3Z"/>
<path class="t" stroke-width="1.4" d="M1087.6 832.8 L1095.1 835.3 L1095.4 841.1 L1088.4 838.6Z"/>
<g filter="url(#bw)">
<text class="n" x="199" y="180.5">10</text>
<text class="n" x="448" y="288.5">16</text>
<text class="n" x="241" y="356.5">13</text>
<text class="n" x="362.5" y="366">11</text>
<text class="n" x="1050.5" y="312.5">21</text>
<text class="n" x="53.5" y="544.5">5</text>
<text class="n" x="130" y="544.5">6</text>
<text class="n" x="126.5" y="788">19</text>
<text class="n" x="240.5" y="818.5">2</text>
<text class="n" x="357" y="758">14</text>
<text class="n" x="481" y="701">15</text>
<text class="n" x="545.5" y="886">3</text>
<text class="n" x="909.5" y="503.5">1</text>
<text class="n" x="782" y="643.5">12</text>
<text class="n" x="849" y="643.5">9</text>
<text class="n" x="894" y="643.5">4</text>
<text class="n" x="1189" y="597.5">20</text>
<text class="n" x="1084" y="671">17</text>
<text class="n" x="1186" y="671">18</text>
<text class="n" x="974.2" y="745.5">8</text>
<text class="n" x="974" y="818.5">7</text>
<text class="n" x="519" y="205">17</text>
<text class="n" x="305" y="308">20</text>
<text class="n" x="520.5" y="414">18</text>
<text class="n" x="751.5" y="188">7</text>
<text class="n" x="694.6" y="220">8</text>
<text class="n" x="682" y="289">20</text>
</g>
<g filter="url(#bw2)">
<text class="s" x="1110" y="886.6">00097102</text>
</g>
</svg>
</body>
</html>
